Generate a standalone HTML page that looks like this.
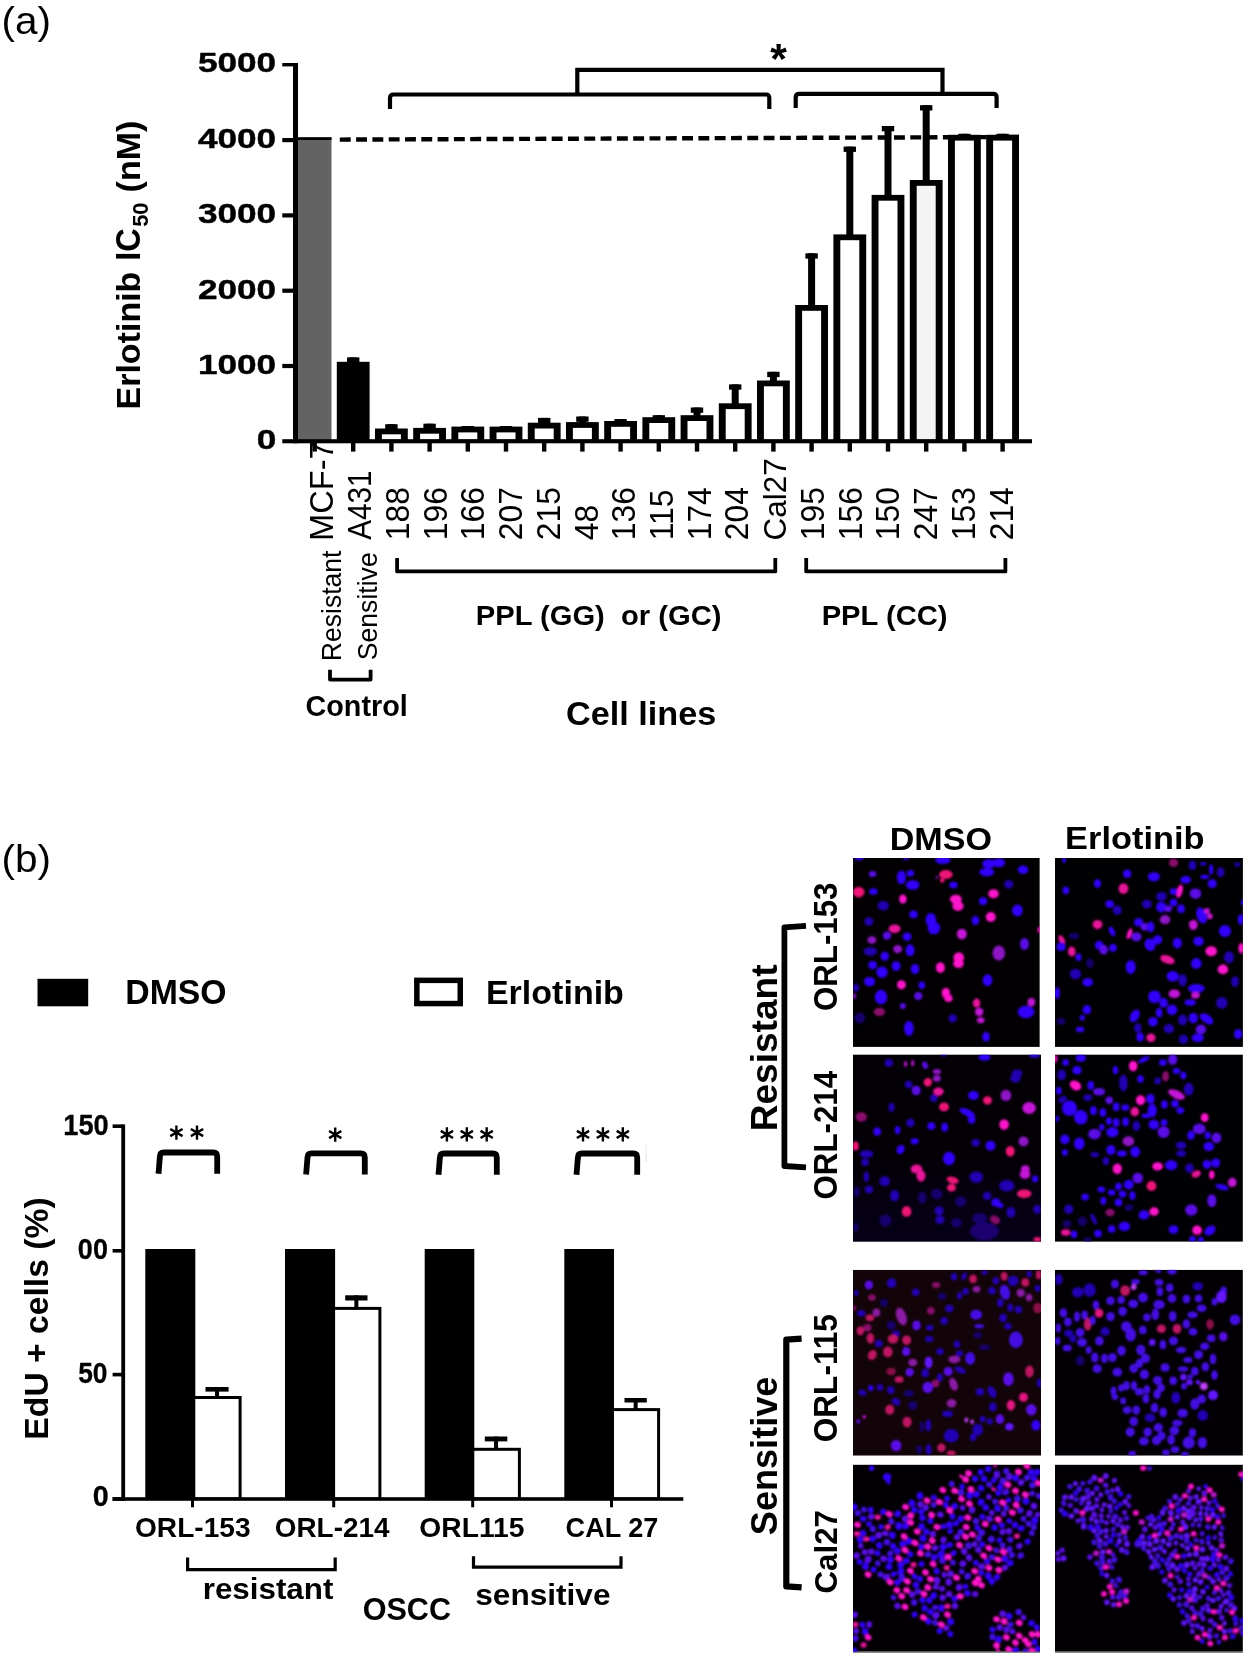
<!DOCTYPE html>
<html><head><meta charset="utf-8"><title>Figure</title>
<style>
html,body{margin:0;padding:0;background:#fff;}
body{width:1244px;height:1653px;overflow:hidden;}
svg{display:block;}
text{font-family:"Liberation Sans",sans-serif;opacity:0.999;}
</style></head><body>
<svg width="1244" height="1653" viewBox="0 0 1244 1653">
<rect width="1244" height="1653" fill="#fff"/>
<g>
<text xml:space="preserve" transform="translate(1.54,34.12) scale(1.0232,1)" font-size="39.57" font-weight="400" fill="#000">(a)</text>
<text xml:space="preserve" transform="translate(1.54,871.70) scale(1.0204,1)" font-size="39.68" font-weight="400" fill="#000">(b)</text>
<rect x="298.00" y="137.40" width="33.50" height="303.60" fill="#636363"/>
<rect x="336.80" y="361.80" width="32.80" height="79.20" fill="#000"/>
<rect x="349.70" y="357.40" width="7.00" height="5.40" fill="#000"/>
<rect x="347.00" y="357.40" width="12.40" height="5.30" fill="#000"/>
<rect x="375.00" y="428.50" width="32.80" height="12.50" fill="#000"/>
<rect x="381.90" y="434.30" width="19.00" height="5.30" fill="#fff"/>
<rect x="387.90" y="424.20" width="7.00" height="5.30" fill="#000"/>
<rect x="385.20" y="424.20" width="12.40" height="5.30" fill="#000"/>
<rect x="413.20" y="427.90" width="32.80" height="13.10" fill="#000"/>
<rect x="420.10" y="433.70" width="19.00" height="5.90" fill="#fff"/>
<rect x="426.10" y="423.70" width="7.00" height="5.20" fill="#000"/>
<rect x="423.40" y="423.70" width="12.40" height="5.30" fill="#000"/>
<rect x="451.40" y="426.60" width="32.80" height="14.40" fill="#000"/>
<rect x="458.30" y="432.40" width="19.00" height="7.20" fill="#fff"/>
<rect x="464.30" y="426.00" width="7.00" height="1.60" fill="#000"/>
<rect x="461.60" y="426.00" width="12.40" height="5.30" fill="#000"/>
<rect x="489.60" y="426.60" width="32.80" height="14.40" fill="#000"/>
<rect x="496.50" y="432.40" width="19.00" height="7.20" fill="#fff"/>
<rect x="502.50" y="426.00" width="7.00" height="1.60" fill="#000"/>
<rect x="499.80" y="426.00" width="12.40" height="5.30" fill="#000"/>
<rect x="527.80" y="422.70" width="32.80" height="18.30" fill="#000"/>
<rect x="534.70" y="428.50" width="19.00" height="11.10" fill="#fff"/>
<rect x="540.70" y="417.90" width="7.00" height="5.80" fill="#000"/>
<rect x="538.00" y="417.90" width="12.40" height="5.30" fill="#000"/>
<rect x="566.00" y="422.10" width="32.80" height="18.90" fill="#000"/>
<rect x="572.90" y="427.90" width="19.00" height="11.70" fill="#fff"/>
<rect x="578.90" y="416.50" width="7.00" height="6.60" fill="#000"/>
<rect x="576.20" y="416.50" width="12.40" height="5.30" fill="#000"/>
<rect x="604.20" y="421.00" width="32.80" height="20.00" fill="#000"/>
<rect x="611.10" y="426.80" width="19.00" height="12.80" fill="#fff"/>
<rect x="617.10" y="419.10" width="7.00" height="2.90" fill="#000"/>
<rect x="614.40" y="419.10" width="12.40" height="5.30" fill="#000"/>
<rect x="642.40" y="417.20" width="32.80" height="23.80" fill="#000"/>
<rect x="649.30" y="423.00" width="19.00" height="16.60" fill="#fff"/>
<rect x="655.30" y="415.20" width="7.00" height="3.00" fill="#000"/>
<rect x="652.60" y="415.20" width="12.40" height="5.30" fill="#000"/>
<rect x="680.60" y="415.20" width="32.80" height="25.80" fill="#000"/>
<rect x="687.50" y="421.00" width="19.00" height="18.60" fill="#fff"/>
<rect x="693.50" y="407.50" width="7.00" height="8.70" fill="#000"/>
<rect x="690.80" y="407.50" width="12.40" height="5.30" fill="#000"/>
<rect x="718.80" y="403.30" width="32.80" height="37.70" fill="#000"/>
<rect x="725.70" y="409.10" width="19.00" height="30.50" fill="#fff"/>
<rect x="731.70" y="384.40" width="7.00" height="19.90" fill="#000"/>
<rect x="729.00" y="384.40" width="12.40" height="5.30" fill="#000"/>
<rect x="757.00" y="380.50" width="32.80" height="60.50" fill="#000"/>
<rect x="763.90" y="386.30" width="19.00" height="53.30" fill="#fff"/>
<rect x="769.90" y="371.80" width="7.00" height="9.70" fill="#000"/>
<rect x="767.20" y="371.80" width="12.40" height="5.30" fill="#000"/>
<rect x="795.20" y="305.00" width="32.80" height="136.00" fill="#000"/>
<rect x="802.10" y="310.80" width="19.00" height="128.80" fill="#fff"/>
<rect x="808.10" y="253.30" width="7.00" height="52.70" fill="#000"/>
<rect x="805.40" y="253.30" width="12.40" height="5.30" fill="#000"/>
<rect x="833.40" y="234.40" width="32.80" height="206.60" fill="#000"/>
<rect x="840.30" y="240.20" width="19.00" height="199.40" fill="#fff"/>
<rect x="846.30" y="146.60" width="7.00" height="88.80" fill="#000"/>
<rect x="843.60" y="146.60" width="12.40" height="5.30" fill="#000"/>
<rect x="871.60" y="194.90" width="32.80" height="246.10" fill="#000"/>
<rect x="878.50" y="200.70" width="19.00" height="238.90" fill="#fff"/>
<rect x="884.50" y="126.00" width="7.00" height="69.90" fill="#000"/>
<rect x="881.80" y="126.00" width="12.40" height="5.30" fill="#000"/>
<rect x="909.80" y="180.00" width="32.80" height="261.00" fill="#000"/>
<rect x="916.70" y="185.80" width="19.00" height="253.80" fill="#f4f4f4"/>
<rect x="922.70" y="105.20" width="7.00" height="75.80" fill="#000"/>
<rect x="920.00" y="105.20" width="12.40" height="5.30" fill="#000"/>
<rect x="948.00" y="134.80" width="32.80" height="306.20" fill="#000"/>
<rect x="954.90" y="140.60" width="19.00" height="299.00" fill="#fff"/>
<rect x="960.90" y="133.80" width="7.00" height="2.00" fill="#000"/>
<rect x="958.20" y="133.80" width="12.40" height="5.30" fill="#000"/>
<rect x="986.20" y="134.80" width="32.80" height="306.20" fill="#000"/>
<rect x="993.10" y="140.60" width="19.00" height="299.00" fill="#fff"/>
<rect x="999.10" y="133.80" width="7.00" height="2.00" fill="#000"/>
<rect x="996.40" y="133.80" width="12.40" height="5.30" fill="#000"/>
<path d="M296,138.7 L331.5,138.6" stroke="#000" stroke-width="2.8" fill="none"/>
<path d="M339.8,139.6 L1020,137.0" stroke="#000" stroke-width="4.4" stroke-dasharray="10.9 5.4" fill="none"/>
<rect x="293.00" y="63.00" width="5.00" height="380.20" fill="#000"/>
<rect x="282.30" y="439.20" width="749.70" height="4.10" fill="#000"/>
<rect x="282.30" y="363.90" width="12.70" height="4.20" fill="#000"/>
<rect x="282.30" y="288.60" width="12.70" height="4.20" fill="#000"/>
<rect x="282.30" y="213.30" width="12.70" height="4.20" fill="#000"/>
<rect x="282.30" y="138.00" width="12.70" height="4.20" fill="#000"/>
<rect x="282.30" y="63.00" width="12.70" height="3.40" fill="#000"/>
<rect x="312.50" y="443.00" width="4.40" height="8.60" fill="#000"/>
<rect x="351.00" y="443.00" width="4.40" height="8.60" fill="#000"/>
<rect x="389.20" y="443.00" width="4.40" height="8.60" fill="#000"/>
<rect x="427.40" y="443.00" width="4.40" height="8.60" fill="#000"/>
<rect x="465.60" y="443.00" width="4.40" height="8.60" fill="#000"/>
<rect x="503.80" y="443.00" width="4.40" height="8.60" fill="#000"/>
<rect x="542.00" y="443.00" width="4.40" height="8.60" fill="#000"/>
<rect x="580.20" y="443.00" width="4.40" height="8.60" fill="#000"/>
<rect x="618.40" y="443.00" width="4.40" height="8.60" fill="#000"/>
<rect x="656.60" y="443.00" width="4.40" height="8.60" fill="#000"/>
<rect x="694.80" y="443.00" width="4.40" height="8.60" fill="#000"/>
<rect x="733.00" y="443.00" width="4.40" height="8.60" fill="#000"/>
<rect x="771.20" y="443.00" width="4.40" height="8.60" fill="#000"/>
<rect x="809.40" y="443.00" width="4.40" height="8.60" fill="#000"/>
<rect x="847.60" y="443.00" width="4.40" height="8.60" fill="#000"/>
<rect x="885.80" y="443.00" width="4.40" height="8.60" fill="#000"/>
<rect x="924.00" y="443.00" width="4.40" height="8.60" fill="#000"/>
<rect x="962.20" y="443.00" width="4.40" height="8.60" fill="#000"/>
<rect x="1000.40" y="443.00" width="4.40" height="8.60" fill="#000"/>
<text xml:space="preserve" transform="translate(197.89,71.77) scale(1.2373,1)" font-size="28.44" font-weight="700" fill="#000" stroke="#000" stroke-width="0.45" stroke-linejoin="round">5000</text>
<text xml:space="preserve" transform="translate(197.89,148.17) scale(1.2373,1)" font-size="28.44" font-weight="700" fill="#000" stroke="#000" stroke-width="0.45" stroke-linejoin="round">4000</text>
<text xml:space="preserve" transform="translate(197.89,223.47) scale(1.2373,1)" font-size="28.44" font-weight="700" fill="#000" stroke="#000" stroke-width="0.45" stroke-linejoin="round">3000</text>
<text xml:space="preserve" transform="translate(197.89,298.77) scale(1.2373,1)" font-size="28.44" font-weight="700" fill="#000" stroke="#000" stroke-width="0.45" stroke-linejoin="round">2000</text>
<text xml:space="preserve" transform="translate(197.89,374.07) scale(1.2373,1)" font-size="28.44" font-weight="700" fill="#000" stroke="#000" stroke-width="0.45" stroke-linejoin="round">1000</text>
<text xml:space="preserve" transform="translate(256.67,449.37) scale(1.2373,1)" font-size="28.44" font-weight="700" fill="#000" stroke="#000" stroke-width="0.45" stroke-linejoin="round">0</text>
<text xml:space="preserve" transform="translate(139.57,409.47) rotate(-90) scale(1.0178,1)" font-size="33.41" font-weight="700" fill="#000">Erlotinib</text>
<text xml:space="preserve" transform="translate(139.84,260.66) rotate(-90) scale(0.9132,1)" font-size="35.52" font-weight="700" fill="#000">IC</text>
<text xml:space="preserve" transform="translate(148.08,226.85) rotate(-90) scale(0.9670,1)" font-size="22.50" font-weight="700" fill="#000">50</text>
<text xml:space="preserve" transform="translate(139.86,192.40) rotate(-90) scale(0.9984,1)" font-size="34.09" font-weight="700" fill="#000">(nM)</text>
<path d="M390,109 L390,98 Q390,94.5 393.5,94.5 L766,94.5 Q769.3,94.5 769.3,98 L769.3,109" stroke="#000" stroke-width="4.2" fill="none" stroke-linejoin="round"/>
<path d="M795.7,108 L795.7,97.3 Q795.7,93.8 799.2,93.8 L993.3,93.8 Q996.6,93.8 996.6,97.3 L996.6,108" stroke="#000" stroke-width="4.2" fill="none" stroke-linejoin="round"/>
<path d="M577.3,94.5 L577.3,69.9 L942.5,69.9 L942.5,93.8" stroke="#000" stroke-width="4.2" fill="none" stroke-linejoin="miter"/>
<text xml:space="preserve" transform="translate(770.36,73.28) scale(1.0173,1)" font-size="42.05" font-weight="700" fill="#000">*</text>
<text xml:space="preserve" transform="translate(332.77,541.02) rotate(-90) scale(0.9951,1)" font-size="32.83" font-weight="400" fill="#000">MCF-7</text>
<text xml:space="preserve" transform="translate(370.67,539.80) rotate(-90) scale(0.9045,1)" font-size="32.83" font-weight="400" fill="#000">A431</text>
<text xml:space="preserve" transform="translate(408.87,540.24) rotate(-90) scale(0.9688,1)" font-size="32.83" font-weight="400" fill="#000">188</text>
<text xml:space="preserve" transform="translate(446.60,540.24) rotate(-90) scale(0.9688,1)" font-size="32.83" font-weight="400" fill="#000">196</text>
<text xml:space="preserve" transform="translate(484.33,540.24) rotate(-90) scale(0.9688,1)" font-size="32.83" font-weight="400" fill="#000">166</text>
<text xml:space="preserve" transform="translate(522.06,540.24) rotate(-90) scale(0.9688,1)" font-size="32.83" font-weight="400" fill="#000">207</text>
<text xml:space="preserve" transform="translate(559.79,540.24) rotate(-90) scale(0.9688,1)" font-size="32.83" font-weight="400" fill="#000">215</text>
<text xml:space="preserve" transform="translate(597.52,540.24) rotate(-90) scale(0.9688,1)" font-size="32.83" font-weight="400" fill="#000">48</text>
<text xml:space="preserve" transform="translate(635.25,540.24) rotate(-90) scale(0.9688,1)" font-size="32.83" font-weight="400" fill="#000">136</text>
<text xml:space="preserve" transform="translate(672.98,540.24) rotate(-90) scale(0.9551,1)" font-size="33.30" font-weight="400" fill="#000">115</text>
<text xml:space="preserve" transform="translate(711.04,540.24) rotate(-90) scale(0.9414,1)" font-size="33.79" font-weight="400" fill="#000">174</text>
<text xml:space="preserve" transform="translate(748.44,540.24) rotate(-90) scale(0.9688,1)" font-size="32.83" font-weight="400" fill="#000">204</text>
<text xml:space="preserve" transform="translate(786.18,540.47) rotate(-90) scale(0.9948,1)" font-size="31.64" font-weight="400" fill="#000">Cal27</text>
<text xml:space="preserve" transform="translate(823.90,540.24) rotate(-90) scale(0.9688,1)" font-size="32.83" font-weight="400" fill="#000">195</text>
<text xml:space="preserve" transform="translate(861.63,540.24) rotate(-90) scale(0.9688,1)" font-size="32.83" font-weight="400" fill="#000">156</text>
<text xml:space="preserve" transform="translate(899.36,540.24) rotate(-90) scale(0.9688,1)" font-size="32.83" font-weight="400" fill="#000">150</text>
<text xml:space="preserve" transform="translate(937.42,540.24) rotate(-90) scale(0.9551,1)" font-size="33.30" font-weight="400" fill="#000">247</text>
<text xml:space="preserve" transform="translate(974.82,540.24) rotate(-90) scale(0.9688,1)" font-size="32.83" font-weight="400" fill="#000">153</text>
<text xml:space="preserve" transform="translate(1012.88,540.24) rotate(-90) scale(0.9551,1)" font-size="33.30" font-weight="400" fill="#000">214</text>
<text xml:space="preserve" transform="translate(341.11,661.21) rotate(-90) scale(0.9321,1)" font-size="28.50" font-weight="400" fill="#000">Resistant</text>
<text xml:space="preserve" transform="translate(376.81,660.24) rotate(-90) scale(0.9341,1)" font-size="28.50" font-weight="400" fill="#000">Sensitive</text>
<path d="M330.0,669.8 L330.0,679.6 L370.6,679.6 L370.6,669.8" stroke="#000" stroke-width="3.8" fill="none" stroke-linejoin="round"/>
<path d="M397.1,557.9 L397.1,571.4 L775.3,571.4 L775.3,557.9" stroke="#000" stroke-width="3.8" fill="none" stroke-linejoin="round"/>
<path d="M806.2,557.9 L806.2,571.4 L1005.4,571.4 L1005.4,557.9" stroke="#000" stroke-width="3.8" fill="none" stroke-linejoin="round"/>
<text xml:space="preserve" transform="translate(305.55,715.61) scale(1.0040,1)" font-size="28.64" font-weight="700" fill="#000">Control</text>
<text xml:space="preserve" transform="translate(475.76,624.68) scale(1.0722,1)" font-size="27.20" font-weight="700" fill="#000">PPL (GG)  or (GC)</text>
<text xml:space="preserve" transform="translate(821.65,624.68) scale(1.0730,1)" font-size="27.20" font-weight="700" fill="#000">PPL (CC)</text>
<text xml:space="preserve" transform="translate(566.03,725.26) scale(1.0039,1)" font-size="34.09" font-weight="700" fill="#000">Cell lines</text>
<rect x="37.50" y="978.80" width="50.70" height="27.50" fill="#000"/>
<rect x="414.10" y="977.60" width="48.90" height="28.70" fill="#000"/>
<rect x="419.60" y="983.10" width="37.90" height="17.70" fill="#fff"/>
<text xml:space="preserve" transform="translate(125.25,1003.55) scale(0.9710,1)" font-size="34.81" font-weight="700" fill="#000">DMSO</text>
<text xml:space="preserve" transform="translate(485.93,1003.56) scale(1.0144,1)" font-size="33.55" font-weight="700" fill="#000">Erlotinib</text>
<rect x="145.30" y="1249.00" width="50.00" height="250.00" fill="#000"/>
<rect x="285.00" y="1249.00" width="50.10" height="250.00" fill="#000"/>
<rect x="424.70" y="1249.00" width="49.60" height="250.00" fill="#000"/>
<rect x="564.30" y="1249.00" width="49.70" height="250.00" fill="#000"/>
<rect x="192.30" y="1396.00" width="49.30" height="103.00" fill="#000"/>
<rect x="195.30" y="1399.00" width="43.30" height="98.40" fill="#fff"/>
<rect x="205.50" y="1387.00" width="23.10" height="4.60" fill="#000"/>
<rect x="215.05" y="1387.00" width="4.00" height="10.00" fill="#000"/>
<rect x="332.10" y="1306.90" width="49.30" height="192.10" fill="#000"/>
<rect x="335.10" y="1309.90" width="43.30" height="187.50" fill="#fff"/>
<rect x="345.20" y="1295.30" width="22.30" height="5.20" fill="#000"/>
<rect x="354.35" y="1295.30" width="4.00" height="12.60" fill="#000"/>
<rect x="471.30" y="1447.80" width="49.60" height="51.20" fill="#000"/>
<rect x="474.30" y="1450.80" width="43.60" height="46.60" fill="#fff"/>
<rect x="484.80" y="1436.50" width="22.50" height="4.90" fill="#000"/>
<rect x="494.05" y="1436.50" width="4.00" height="12.30" fill="#000"/>
<rect x="611.00" y="1408.10" width="49.10" height="90.90" fill="#000"/>
<rect x="614.00" y="1411.10" width="43.10" height="86.30" fill="#fff"/>
<rect x="624.50" y="1398.00" width="22.30" height="4.50" fill="#000"/>
<rect x="633.65" y="1398.00" width="4.00" height="11.10" fill="#000"/>
<rect x="121.30" y="1124.40" width="3.80" height="376.40" fill="#000"/>
<rect x="112.60" y="1497.20" width="570.70" height="3.60" fill="#000"/>
<rect x="112.60" y="1124.40" width="10.40" height="3.60" fill="#000"/>
<rect x="112.60" y="1249.00" width="10.40" height="3.60" fill="#000"/>
<rect x="112.60" y="1372.80" width="10.40" height="3.60" fill="#000"/>
<rect x="112.60" y="1497.20" width="10.40" height="3.60" fill="#000"/>
<rect x="191.00" y="1500.00" width="3.00" height="7.30" fill="#000"/>
<rect x="332.20" y="1500.00" width="3.00" height="7.30" fill="#000"/>
<rect x="471.20" y="1500.00" width="3.00" height="7.30" fill="#000"/>
<rect x="610.00" y="1500.00" width="3.00" height="7.30" fill="#000"/>
<text xml:space="preserve" transform="translate(63.32,1134.55) scale(0.9042,1)" font-size="30.14" font-weight="700" fill="#000" stroke="#000" stroke-width="0.32" stroke-linejoin="round">150</text>
<text xml:space="preserve" transform="translate(77.87,1258.95) scale(0.9086,1)" font-size="29.72" font-weight="700" fill="#000" stroke="#000" stroke-width="0.31" stroke-linejoin="round">00</text>
<text xml:space="preserve" transform="translate(78.16,1382.55) scale(0.8870,1)" font-size="29.72" font-weight="700" fill="#000" stroke="#000" stroke-width="0.32" stroke-linejoin="round">50</text>
<text xml:space="preserve" transform="translate(92.80,1506.35) scale(0.9626,1)" font-size="29.86" font-weight="700" fill="#000" stroke="#000" stroke-width="0.31" stroke-linejoin="round">0</text>
<text xml:space="preserve" transform="translate(48.24,1439.65) rotate(-90) scale(1.0009,1)" font-size="33.66" font-weight="700" fill="#000">EdU + cells (%)</text>
<text xml:space="preserve" transform="translate(134.98,1536.82) scale(1.0190,1)" font-size="27.59" font-weight="700" fill="#000">ORL-153</text>
<text xml:space="preserve" transform="translate(274.78,1536.82) scale(1.0114,1)" font-size="27.59" font-weight="700" fill="#000">ORL-214</text>
<text xml:space="preserve" transform="translate(419.37,1536.82) scale(1.0238,1)" font-size="27.59" font-weight="700" fill="#000">ORL115</text>
<text xml:space="preserve" transform="translate(565.62,1536.82) scale(0.9810,1)" font-size="27.59" font-weight="700" fill="#000">CAL 27</text>
<path d="M187.6,1557.6 L187.6,1569.6 L335.2,1569.6 L335.2,1557.6" stroke="#000" stroke-width="3.2" fill="none" stroke-linejoin="miter"/>
<path d="M473.5,1556.3 L473.5,1567.2 L621.0,1567.2 L621.0,1556.3" stroke="#000" stroke-width="3.2" fill="none" stroke-linejoin="miter"/>
<text xml:space="preserve" transform="translate(202.71,1599.11) scale(1.0946,1)" font-size="28.64" font-weight="700" fill="#000">resistant</text>
<text xml:space="preserve" transform="translate(475.24,1604.80) scale(1.0587,1)" font-size="29.86" font-weight="700" fill="#000">sensitive</text>
<text xml:space="preserve" transform="translate(362.68,1620.18) scale(0.9569,1)" font-size="31.98" font-weight="700" fill="#000">OSCC</text>
<path d="M176.40,1125.50 L176.40,1139.70 M170.25,1129.05 L182.55,1136.15 M182.55,1129.05 L170.25,1136.15 " stroke="#000" stroke-width="2.4" fill="none"/>
<path d="M197.00,1125.50 L197.00,1139.70 M190.85,1129.05 L203.15,1136.15 M203.15,1129.05 L190.85,1136.15 " stroke="#000" stroke-width="2.4" fill="none"/>
<path d="M335.20,1127.50 L335.20,1141.70 M329.05,1131.05 L341.35,1138.15 M341.35,1131.05 L329.05,1138.15 " stroke="#000" stroke-width="2.4" fill="none"/>
<path d="M446.90,1127.30 L446.90,1141.50 M440.75,1130.85 L453.05,1137.95 M453.05,1130.85 L440.75,1137.95 " stroke="#000" stroke-width="2.4" fill="none"/>
<path d="M466.80,1127.30 L466.80,1141.50 M460.65,1130.85 L472.95,1137.95 M472.95,1130.85 L460.65,1137.95 " stroke="#000" stroke-width="2.4" fill="none"/>
<path d="M486.70,1127.30 L486.70,1141.50 M480.55,1130.85 L492.85,1137.95 M492.85,1130.85 L480.55,1137.95 " stroke="#000" stroke-width="2.4" fill="none"/>
<path d="M583.00,1127.30 L583.00,1141.50 M576.85,1130.85 L589.15,1137.95 M589.15,1130.85 L576.85,1137.95 " stroke="#000" stroke-width="2.4" fill="none"/>
<path d="M602.90,1127.30 L602.90,1141.50 M596.75,1130.85 L609.05,1137.95 M609.05,1130.85 L596.75,1137.95 " stroke="#000" stroke-width="2.4" fill="none"/>
<path d="M622.80,1127.30 L622.80,1141.50 M616.65,1130.85 L628.95,1137.95 M628.95,1130.85 L616.65,1137.95 " stroke="#000" stroke-width="2.4" fill="none"/>
<path d="M158.50,1173.7 L159.90,1156.50 Q159.90,1152.50 163.90,1152.50 L213.20,1152.50 Q217.20,1152.50 217.20,1156.50 L217.20,1173.7" stroke="#000" stroke-width="5.8" fill="none" stroke-linejoin="round"/>
<path d="M306.10,1174.6 L307.50,1157.40 Q307.50,1153.40 311.50,1153.40 L360.80,1153.40 Q364.80,1153.40 364.80,1157.40 L364.80,1174.6" stroke="#000" stroke-width="5.8" fill="none" stroke-linejoin="round"/>
<path d="M438.50,1174.7 L439.90,1157.50 Q439.90,1153.50 443.90,1153.50 L492.80,1153.50 Q496.80,1153.50 496.80,1157.50 L496.80,1174.7" stroke="#000" stroke-width="5.8" fill="none" stroke-linejoin="round"/>
<path d="M576.50,1174.7 L577.90,1157.50 Q577.90,1153.50 581.90,1153.50 L633.20,1153.50 Q637.20,1153.50 637.20,1157.50 L637.20,1174.7" stroke="#000" stroke-width="5.8" fill="none" stroke-linejoin="round"/>
<rect x="645.60" y="1145.00" width="0.80" height="17.00" fill="#ddd"/>
<text xml:space="preserve" transform="translate(889.63,850.28) scale(1.0762,1)" font-size="31.70" font-weight="700" fill="#000">DMSO</text>
<text xml:space="preserve" transform="translate(1065.11,849.09) scale(1.0963,1)" font-size="31.36" font-weight="700" fill="#000">Erlotinib</text>
<text xml:space="preserve" transform="translate(837.47,1010.95) rotate(-90) scale(0.9394,1)" font-size="33.25" font-weight="700" fill="#000">ORL-153</text>
<text xml:space="preserve" transform="translate(837.47,1199.45) rotate(-90) scale(0.9406,1)" font-size="33.25" font-weight="700" fill="#000">ORL-214</text>
<text xml:space="preserve" transform="translate(837.47,1442.26) rotate(-90) scale(0.9504,1)" font-size="33.25" font-weight="700" fill="#000">ORL-115</text>
<text xml:space="preserve" transform="translate(837.48,1593.55) rotate(-90) scale(0.9772,1)" font-size="32.05" font-weight="700" fill="#000">Cal27</text>
<text xml:space="preserve" transform="translate(776.94,1131.27) rotate(-90) scale(1.0177,1)" font-size="36.41" font-weight="700" fill="#000">Resistant</text>
<text xml:space="preserve" transform="translate(776.94,1535.18) rotate(-90) scale(0.9922,1)" font-size="36.41" font-weight="700" fill="#000">Sensitive</text>
<path d="M806,925.9 L784.4,927.4 L784.4,1166.0 L806,1167.4" stroke="#000" stroke-width="5.8" fill="none" stroke-linejoin="round"/>
<path d="M801.6,1338.6 L786.3,1339.6 L786.3,1586.4 L801.6,1587.4" stroke="#000" stroke-width="6.2" fill="none" stroke-linejoin="round"/>
<rect x="853.00" y="1651.80" width="187.00" height="1.20" fill="#8a8a8a"/>
<rect x="1055.00" y="1651.80" width="187.90" height="1.20" fill="#8a8a8a"/>
<defs><linearGradient id="hz3" x1="0" y1="0" x2="0" y2="1"><stop offset="0.55" stop-color="#0c0038" stop-opacity="0"/><stop offset="1" stop-color="#0a0030" stop-opacity="0.45"/></linearGradient></defs>
<defs><filter id="bl" x="-5%" y="-5%" width="110%" height="110%"><feGaussianBlur stdDeviation="1.3"/></filter></defs>
<svg x="853.00" y="857.90" width="186.80" height="189.00" viewBox="0 0 186.80 189.00" overflow="hidden">
<rect width="100%" height="100%" fill="#020003"/>
<g filter="url(#bl)">
<ellipse cx="89.9" cy="2.4" rx="7.6" ry="3.8" fill="#3200fa"/>
<ellipse cx="6.0" cy="0.9" rx="4.5" ry="1.5" fill="#3200fa"/>
<ellipse cx="52.9" cy="0.9" rx="3.0" ry="1.2" fill="#3200fa"/>
<ellipse cx="136.0" cy="5.9" rx="6.8" ry="4.5" fill="#3200fa"/>
<ellipse cx="145.8" cy="4.8" rx="6.3" ry="4.5" fill="#3200fa"/>
<ellipse cx="133.7" cy="14.2" rx="7.6" ry="4.2" fill="#3200fa"/>
<ellipse cx="170.0" cy="11.9" rx="5.3" ry="4.2" fill="#3200fa"/>
<ellipse cx="19.6" cy="16.0" rx="3.8" ry="3.0" fill="#5a0ce6"/>
<ellipse cx="48.4" cy="19.5" rx="4.5" ry="6.8" fill="#3200fa"/>
<ellipse cx="57.4" cy="15.4" rx="3.8" ry="3.3" fill="#3200fa"/>
<ellipse cx="59.7" cy="27.1" rx="6.8" ry="4.8" fill="#3200fa"/>
<ellipse cx="92.9" cy="16.5" rx="6.8" ry="4.5" fill="#f01478"/>
<ellipse cx="89.2" cy="22.5" rx="2.3" ry="2.3" fill="#f01478"/>
<ellipse cx="83.9" cy="19.5" rx="1.5" ry="1.2" fill="#8e14c4"/>
<ellipse cx="100.5" cy="27.1" rx="4.2" ry="3.3" fill="#3200fa"/>
<ellipse cx="155.7" cy="26.3" rx="4.5" ry="4.2" fill="#2400b4"/>
<ellipse cx="5.7" cy="34.2" rx="5.7" ry="5.3" fill="#f01478"/>
<ellipse cx="20.4" cy="33.6" rx="4.2" ry="3.3" fill="#3200fa"/>
<ellipse cx="49.9" cy="41.1" rx="3.8" ry="4.5" fill="#ff12cc"/>
<ellipse cx="140.5" cy="35.8" rx="5.3" ry="4.5" fill="#ff12cc"/>
<ellipse cx="102.8" cy="41.4" rx="6.0" ry="4.5" fill="#ff12cc"/>
<ellipse cx="105.0" cy="48.2" rx="5.7" ry="4.8" fill="#ff12cc"/>
<ellipse cx="130.0" cy="43.2" rx="4.2" ry="3.9" fill="#3200fa"/>
<ellipse cx="30.2" cy="47.8" rx="5.7" ry="4.8" fill="#2400b4"/>
<ellipse cx="164.4" cy="52.7" rx="5.3" ry="6.0" fill="#3200fa"/>
<ellipse cx="60.5" cy="56.5" rx="4.2" ry="3.8" fill="#3200fa"/>
<ellipse cx="137.8" cy="59.1" rx="5.0" ry="5.0" fill="#ff12cc"/>
<ellipse cx="122.4" cy="62.6" rx="3.8" ry="4.5" fill="#3200fa"/>
<ellipse cx="77.8" cy="61.8" rx="5.3" ry="6.8" fill="#3200fa"/>
<ellipse cx="80.9" cy="70.1" rx="6.3" ry="6.3" fill="#3200fa"/>
<ellipse cx="15.9" cy="63.6" rx="4.5" ry="4.2" fill="#2400b4"/>
<ellipse cx="41.6" cy="70.9" rx="6.0" ry="4.2" fill="#e8129a"/>
<ellipse cx="108.8" cy="76.2" rx="5.0" ry="5.3" fill="#c418d8"/>
<ellipse cx="34.0" cy="77.7" rx="4.2" ry="4.1" fill="#5a0ce6"/>
<ellipse cx="54.1" cy="78.7" rx="4.5" ry="4.2" fill="#3200fa"/>
<ellipse cx="18.9" cy="82.2" rx="4.5" ry="3.8" fill="#8e14c4"/>
<ellipse cx="171.5" cy="86.0" rx="4.5" ry="6.0" fill="#5a0ce6"/>
<ellipse cx="186.2" cy="71.9" rx="1.5" ry="3.3" fill="#ff12cc"/>
<ellipse cx="44.6" cy="91.3" rx="4.5" ry="4.1" fill="#8e14c4"/>
<ellipse cx="57.1" cy="92.3" rx="4.5" ry="6.0" fill="#3200fa"/>
<ellipse cx="17.4" cy="93.6" rx="6.8" ry="4.2" fill="#2400b4"/>
<ellipse cx="31.7" cy="98.4" rx="4.2" ry="4.5" fill="#3200fa"/>
<ellipse cx="145.8" cy="95.1" rx="6.3" ry="7.6" fill="#8e14c4"/>
<ellipse cx="105.8" cy="99.6" rx="5.3" ry="5.3" fill="#ff12cc"/>
<ellipse cx="105.5" cy="105.6" rx="5.3" ry="4.5" fill="#ff12cc"/>
<ellipse cx="87.4" cy="109.7" rx="4.5" ry="5.3" fill="#ff12cc"/>
<ellipse cx="19.6" cy="107.2" rx="4.5" ry="4.2" fill="#3200fa"/>
<ellipse cx="43.1" cy="108.2" rx="4.5" ry="4.8" fill="#3200fa"/>
<ellipse cx="62.0" cy="111.2" rx="4.2" ry="5.0" fill="#3200fa"/>
<ellipse cx="29.0" cy="114.3" rx="5.7" ry="5.7" fill="#3200fa"/>
<ellipse cx="16.6" cy="123.8" rx="5.6" ry="4.8" fill="#3200fa"/>
<ellipse cx="134.5" cy="122.3" rx="4.8" ry="6.0" fill="#3200fa"/>
<ellipse cx="48.4" cy="126.8" rx="4.5" ry="4.5" fill="#ff12cc"/>
<ellipse cx="68.8" cy="127.3" rx="3.3" ry="3.8" fill="#3200fa"/>
<ellipse cx="3.0" cy="129.8" rx="3.0" ry="3.8" fill="#2400b4"/>
<ellipse cx="28.0" cy="139.2" rx="6.3" ry="7.3" fill="#3200fa"/>
<ellipse cx="65.3" cy="138.1" rx="4.2" ry="4.1" fill="#5a0ce6"/>
<ellipse cx="92.9" cy="135.1" rx="4.2" ry="5.3" fill="#ff12cc"/>
<ellipse cx="95.5" cy="140.4" rx="4.1" ry="3.8" fill="#ff12cc"/>
<ellipse cx="49.9" cy="148.0" rx="3.0" ry="3.0" fill="#5a0ce6"/>
<ellipse cx="123.6" cy="145.2" rx="3.8" ry="4.5" fill="#e8129a"/>
<ellipse cx="126.2" cy="154.0" rx="4.1" ry="4.1" fill="#c418d8"/>
<ellipse cx="127.7" cy="162.3" rx="3.8" ry="3.0" fill="#c418d8"/>
<ellipse cx="26.4" cy="154.0" rx="5.7" ry="4.2" fill="#8a0e6c"/>
<ellipse cx="6.8" cy="160.0" rx="5.3" ry="5.3" fill="#16006e"/>
<ellipse cx="99.7" cy="160.5" rx="4.2" ry="4.2" fill="#2400b4"/>
<ellipse cx="173.0" cy="154.0" rx="8.3" ry="6.3" fill="#3200fa"/>
<ellipse cx="178.3" cy="144.2" rx="3.8" ry="4.2" fill="#c418d8"/>
<ellipse cx="55.9" cy="170.6" rx="4.8" ry="7.6" fill="#3200fa"/>
<ellipse cx="133.0" cy="178.9" rx="3.8" ry="4.8" fill="#3200fa"/>
<ellipse cx="1.5" cy="138.1" rx="1.5" ry="3.0" fill="#8e14c4"/>
</g></svg>
<svg x="1055.00" y="857.90" width="187.90" height="189.00" viewBox="0 0 187.90 189.00" overflow="hidden">
<rect width="100%" height="100%" fill="#010002"/>
<g filter="url(#bl)">
<ellipse cx="9.1" cy="2.1" rx="1.8" ry="3.0" fill="#3200fa"/>
<ellipse cx="118.5" cy="4.9" rx="4.6" ry="4.3" fill="#8a0e6c"/>
<ellipse cx="137.5" cy="7.5" rx="3.8" ry="4.9" fill="#2400b4"/>
<ellipse cx="148.1" cy="5.9" rx="3.3" ry="1.5" fill="#3200fa"/>
<ellipse cx="156.2" cy="11.6" rx="2.1" ry="5.3" fill="#3200fa"/>
<ellipse cx="149.7" cy="18.9" rx="4.6" ry="2.1" fill="#3200fa"/>
<ellipse cx="165.6" cy="14.3" rx="3.8" ry="4.9" fill="#2400b4"/>
<ellipse cx="182.3" cy="6.7" rx="2.7" ry="2.3" fill="#2400b4"/>
<ellipse cx="72.2" cy="15.8" rx="4.3" ry="4.3" fill="#3200fa"/>
<ellipse cx="98.8" cy="18.9" rx="6.1" ry="4.6" fill="#3200fa"/>
<ellipse cx="130.7" cy="21.9" rx="5.3" ry="3.8" fill="#3200fa"/>
<ellipse cx="157.2" cy="25.7" rx="4.6" ry="4.3" fill="#3200fa"/>
<ellipse cx="42.5" cy="25.7" rx="3.5" ry="4.3" fill="#3200fa"/>
<ellipse cx="10.9" cy="32.5" rx="3.3" ry="3.8" fill="#3200fa"/>
<ellipse cx="68.4" cy="30.7" rx="4.9" ry="5.3" fill="#e8129a"/>
<ellipse cx="124.6" cy="33.3" rx="3.0" ry="6.8" fill="#ff12cc" transform="rotate(15 124.6 33.3)"/>
<ellipse cx="118.5" cy="33.7" rx="3.8" ry="3.3" fill="#3200fa"/>
<ellipse cx="140.5" cy="35.6" rx="5.8" ry="5.3" fill="#5a0ce6"/>
<ellipse cx="106.4" cy="38.6" rx="5.3" ry="4.6" fill="#2400b4"/>
<ellipse cx="54.7" cy="46.2" rx="4.3" ry="3.8" fill="#3200fa"/>
<ellipse cx="62.3" cy="52.3" rx="4.6" ry="4.6" fill="#2400b4"/>
<ellipse cx="91.9" cy="46.2" rx="4.9" ry="4.3" fill="#2400b4"/>
<ellipse cx="118.5" cy="44.7" rx="3.8" ry="3.8" fill="#3200fa"/>
<ellipse cx="106.4" cy="49.2" rx="5.3" ry="5.3" fill="#3200fa"/>
<ellipse cx="113.2" cy="50.8" rx="3.8" ry="3.3" fill="#5a0ce6"/>
<ellipse cx="126.1" cy="50.8" rx="3.8" ry="4.3" fill="#3200fa"/>
<ellipse cx="187.2" cy="44.7" rx="1.5" ry="3.0" fill="#3200fa"/>
<ellipse cx="146.6" cy="57.6" rx="5.0" ry="8.4" fill="#3200fa" transform="rotate(-20 146.6 57.6)"/>
<ellipse cx="151.9" cy="53.0" rx="3.0" ry="3.0" fill="#c418d8"/>
<ellipse cx="155.0" cy="58.4" rx="2.7" ry="3.0" fill="#c418d8"/>
<ellipse cx="110.1" cy="61.8" rx="5.3" ry="4.6" fill="#8e14c4"/>
<ellipse cx="185.7" cy="61.7" rx="3.0" ry="5.3" fill="#3200fa"/>
<ellipse cx="42.5" cy="66.7" rx="4.9" ry="4.6" fill="#e8129a"/>
<ellipse cx="83.6" cy="64.4" rx="4.6" ry="4.3" fill="#3200fa"/>
<ellipse cx="89.6" cy="69.0" rx="3.8" ry="3.8" fill="#5a0ce6"/>
<ellipse cx="95.7" cy="69.0" rx="3.8" ry="5.3" fill="#3200fa"/>
<ellipse cx="138.3" cy="67.0" rx="4.3" ry="5.0" fill="#c418d8"/>
<ellipse cx="57.0" cy="73.5" rx="2.7" ry="5.3" fill="#3200fa" transform="rotate(-25 57.0 73.5)"/>
<ellipse cx="169.9" cy="73.1" rx="6.1" ry="6.1" fill="#3200fa"/>
<ellipse cx="74.4" cy="75.8" rx="2.1" ry="5.8" fill="#ff12cc" transform="rotate(20 74.4 75.8)"/>
<ellipse cx="81.3" cy="78.9" rx="5.3" ry="4.6" fill="#5a0ce6"/>
<ellipse cx="19.0" cy="78.1" rx="5.3" ry="3.3" fill="#16006e"/>
<ellipse cx="102.6" cy="81.9" rx="4.6" ry="4.6" fill="#3200fa"/>
<ellipse cx="6.8" cy="81.9" rx="2.7" ry="4.9" fill="#e8129a" transform="rotate(-30 6.8 81.9)"/>
<ellipse cx="6.1" cy="88.7" rx="4.6" ry="4.3" fill="#3200fa"/>
<ellipse cx="44.1" cy="87.2" rx="4.3" ry="4.3" fill="#3200fa"/>
<ellipse cx="48.6" cy="91.8" rx="4.3" ry="4.9" fill="#5a0ce6"/>
<ellipse cx="58.0" cy="90.0" rx="3.8" ry="3.8" fill="#3200fa"/>
<ellipse cx="95.0" cy="86.9" rx="5.3" ry="6.4" fill="#3200fa" transform="rotate(-25 95.0 86.9)"/>
<ellipse cx="122.3" cy="85.2" rx="4.6" ry="5.3" fill="#3200fa"/>
<ellipse cx="143.6" cy="83.4" rx="5.3" ry="4.6" fill="#3200fa"/>
<ellipse cx="16.7" cy="93.6" rx="3.8" ry="4.9" fill="#e8129a"/>
<ellipse cx="23.5" cy="99.4" rx="3.0" ry="3.8" fill="#3200fa"/>
<ellipse cx="156.2" cy="93.3" rx="5.8" ry="5.0" fill="#ff12cc"/>
<ellipse cx="186.1" cy="90.3" rx="2.7" ry="5.3" fill="#ff12cc"/>
<ellipse cx="174.0" cy="99.4" rx="5.0" ry="6.1" fill="#2400b4"/>
<ellipse cx="112.4" cy="101.7" rx="7.6" ry="4.0" fill="#e8129a" transform="rotate(20 112.4 101.7)"/>
<ellipse cx="34.9" cy="105.5" rx="3.8" ry="4.9" fill="#16006e"/>
<ellipse cx="141.3" cy="105.5" rx="5.3" ry="5.3" fill="#3200fa"/>
<ellipse cx="75.7" cy="109.2" rx="5.0" ry="6.8" fill="#3200fa"/>
<ellipse cx="167.9" cy="111.5" rx="5.3" ry="4.9" fill="#ff12cc"/>
<ellipse cx="20.5" cy="116.1" rx="5.8" ry="5.3" fill="#2400b4"/>
<ellipse cx="117.7" cy="118.4" rx="6.1" ry="5.3" fill="#3200fa"/>
<ellipse cx="127.6" cy="122.2" rx="4.3" ry="6.1" fill="#2400b4"/>
<ellipse cx="32.7" cy="124.4" rx="5.3" ry="4.3" fill="#3200fa"/>
<ellipse cx="180.0" cy="123.7" rx="3.8" ry="5.3" fill="#2400b4"/>
<ellipse cx="2.3" cy="135.1" rx="2.7" ry="6.1" fill="#3200fa"/>
<ellipse cx="141.3" cy="130.5" rx="8.4" ry="4.3" fill="#3200fa"/>
<ellipse cx="119.3" cy="135.8" rx="5.8" ry="4.3" fill="#c418d8"/>
<ellipse cx="99.5" cy="138.9" rx="6.4" ry="6.4" fill="#3200fa"/>
<ellipse cx="140.5" cy="137.4" rx="4.3" ry="3.3" fill="#c418d8"/>
<ellipse cx="108.6" cy="145.0" rx="4.3" ry="4.9" fill="#3200fa"/>
<ellipse cx="135.2" cy="144.6" rx="5.8" ry="3.3" fill="#3200fa"/>
<ellipse cx="166.8" cy="145.0" rx="5.8" ry="5.8" fill="#2400b4"/>
<ellipse cx="31.9" cy="151.8" rx="4.3" ry="4.6" fill="#3200fa"/>
<ellipse cx="117.0" cy="151.8" rx="5.3" ry="5.3" fill="#3200fa"/>
<ellipse cx="104.1" cy="154.8" rx="3.3" ry="4.9" fill="#3200fa"/>
<ellipse cx="79.8" cy="157.9" rx="4.3" ry="6.8" fill="#3200fa" transform="rotate(30 79.8 157.9)"/>
<ellipse cx="27.3" cy="159.8" rx="2.7" ry="2.7" fill="#3200fa"/>
<ellipse cx="138.3" cy="160.1" rx="4.6" ry="5.3" fill="#3200fa"/>
<ellipse cx="127.6" cy="162.0" rx="4.6" ry="5.3" fill="#2400b4"/>
<ellipse cx="151.6" cy="160.9" rx="7.6" ry="4.3" fill="#3200fa" transform="rotate(35 151.6 160.9)"/>
<ellipse cx="6.1" cy="163.5" rx="4.3" ry="3.3" fill="#16006e"/>
<ellipse cx="98.0" cy="163.9" rx="4.9" ry="4.6" fill="#3200fa"/>
<ellipse cx="25.1" cy="171.5" rx="4.3" ry="2.7" fill="#3200fa"/>
<ellipse cx="113.9" cy="170.8" rx="5.3" ry="4.6" fill="#2400b4"/>
<ellipse cx="145.9" cy="171.5" rx="5.3" ry="4.9" fill="#5a0ce6"/>
<ellipse cx="82.8" cy="170.0" rx="3.8" ry="4.6" fill="#2400b4"/>
<ellipse cx="183.1" cy="176.1" rx="4.1" ry="4.9" fill="#3200fa"/>
<ellipse cx="85.1" cy="179.1" rx="3.8" ry="4.6" fill="#3200fa"/>
<ellipse cx="96.0" cy="179.9" rx="4.6" ry="4.3" fill="#e8129a"/>
<ellipse cx="142.8" cy="179.9" rx="6.1" ry="4.3" fill="#3200fa"/>
<ellipse cx="128.4" cy="181.4" rx="4.6" ry="4.6" fill="#2400b4"/>
</g></svg>
<svg x="853.00" y="1054.40" width="188.00" height="187.40" viewBox="0 0 188.00 187.40" overflow="hidden">
<rect width="100%" height="100%" fill="#030006"/>
<rect width="100%" height="100%" fill="url(#hz3)"/>
<g filter="url(#bl)">
<ellipse cx="90.7" cy="0.6" rx="2.3" ry="1.2" fill="#3200fa"/>
<ellipse cx="131.5" cy="2.9" rx="6.0" ry="3.3" fill="#3200fa"/>
<ellipse cx="181.4" cy="1.4" rx="5.3" ry="1.8" fill="#3200fa"/>
<ellipse cx="35.8" cy="8.5" rx="4.2" ry="3.8" fill="#2400b4"/>
<ellipse cx="52.6" cy="9.7" rx="1.5" ry="3.0" fill="#c418d8"/>
<ellipse cx="59.7" cy="8.9" rx="1.5" ry="3.0" fill="#c418d8"/>
<ellipse cx="72.1" cy="10.9" rx="2.7" ry="3.8" fill="#5a0ce6" transform="rotate(-30 72.1 10.9)"/>
<ellipse cx="83.9" cy="17.2" rx="4.2" ry="2.7" fill="#8e14c4"/>
<ellipse cx="83.9" cy="24.0" rx="3.8" ry="3.3" fill="#8e14c4"/>
<ellipse cx="164.0" cy="18.8" rx="5.3" ry="3.8" fill="#2400b4"/>
<ellipse cx="162.5" cy="24.0" rx="5.3" ry="4.2" fill="#2400b4"/>
<ellipse cx="74.8" cy="27.8" rx="4.1" ry="4.2" fill="#f01478"/>
<ellipse cx="55.6" cy="30.1" rx="3.8" ry="3.8" fill="#2400b4"/>
<ellipse cx="63.2" cy="36.1" rx="4.5" ry="4.8" fill="#5a0ce6"/>
<ellipse cx="85.4" cy="37.2" rx="5.3" ry="4.2" fill="#e8129a"/>
<ellipse cx="80.9" cy="43.7" rx="3.8" ry="3.8" fill="#2400b4"/>
<ellipse cx="120.4" cy="41.0" rx="5.3" ry="4.5" fill="#3200fa"/>
<ellipse cx="152.9" cy="41.0" rx="5.3" ry="5.7" fill="#8e14c4"/>
<ellipse cx="134.5" cy="46.0" rx="4.5" ry="4.2" fill="#f01478"/>
<ellipse cx="38.5" cy="52.8" rx="3.0" ry="4.5" fill="#2400b4"/>
<ellipse cx="91.0" cy="52.5" rx="5.0" ry="4.5" fill="#f01478"/>
<ellipse cx="176.1" cy="53.5" rx="6.8" ry="6.0" fill="#c418d8"/>
<ellipse cx="8.3" cy="62.6" rx="5.7" ry="4.8" fill="#8a0e6c"/>
<ellipse cx="114.1" cy="58.1" rx="8.3" ry="3.3" fill="#3200fa" transform="rotate(25 114.1 58.1)"/>
<ellipse cx="118.6" cy="64.9" rx="3.8" ry="4.5" fill="#3200fa"/>
<ellipse cx="57.4" cy="68.3" rx="4.2" ry="4.2" fill="#2400b4"/>
<ellipse cx="151.1" cy="70.1" rx="4.8" ry="5.3" fill="#ff12cc"/>
<ellipse cx="78.3" cy="71.7" rx="4.1" ry="3.8" fill="#3200fa"/>
<ellipse cx="91.7" cy="72.9" rx="3.3" ry="4.5" fill="#3200fa"/>
<ellipse cx="24.2" cy="77.2" rx="3.8" ry="4.2" fill="#3200fa"/>
<ellipse cx="44.6" cy="75.7" rx="2.7" ry="4.2" fill="#3200fa"/>
<ellipse cx="61.7" cy="86.8" rx="4.1" ry="3.0" fill="#3200fa"/>
<ellipse cx="122.7" cy="88.3" rx="4.2" ry="3.8" fill="#2400b4"/>
<ellipse cx="137.5" cy="91.3" rx="5.0" ry="5.0" fill="#3200fa"/>
<ellipse cx="170.5" cy="87.1" rx="5.0" ry="5.0" fill="#8e14c4"/>
<ellipse cx="2.7" cy="91.6" rx="3.0" ry="4.5" fill="#f01478"/>
<ellipse cx="47.6" cy="95.1" rx="3.8" ry="4.8" fill="#3200fa" transform="rotate(30 47.6 95.1)"/>
<ellipse cx="157.2" cy="96.9" rx="4.5" ry="5.3" fill="#f01478"/>
<ellipse cx="13.6" cy="99.6" rx="6.8" ry="3.8" fill="#2400b4"/>
<ellipse cx="12.1" cy="107.9" rx="3.8" ry="3.8" fill="#2400b4"/>
<ellipse cx="96.0" cy="104.1" rx="6.0" ry="6.8" fill="#3200fa"/>
<ellipse cx="63.5" cy="114.7" rx="6.0" ry="4.5" fill="#e8129a"/>
<ellipse cx="68.0" cy="121.5" rx="4.5" ry="5.7" fill="#e8129a"/>
<ellipse cx="172.3" cy="114.7" rx="4.5" ry="3.8" fill="#c418d8"/>
<ellipse cx="172.0" cy="120.0" rx="5.3" ry="4.5" fill="#c418d8"/>
<ellipse cx="13.3" cy="122.3" rx="2.7" ry="5.3" fill="#2400b4"/>
<ellipse cx="31.7" cy="126.8" rx="5.3" ry="5.0" fill="#2400b4"/>
<ellipse cx="123.2" cy="122.7" rx="6.8" ry="5.7" fill="#2400b4"/>
<ellipse cx="182.1" cy="124.5" rx="3.0" ry="3.3" fill="#3200fa"/>
<ellipse cx="99.7" cy="125.8" rx="6.3" ry="3.3" fill="#f01478" transform="rotate(15 99.7 125.8)"/>
<ellipse cx="98.5" cy="133.3" rx="4.5" ry="3.8" fill="#f01478"/>
<ellipse cx="153.8" cy="131.3" rx="7.6" ry="5.7" fill="#2400b4"/>
<ellipse cx="15.9" cy="135.1" rx="4.2" ry="3.8" fill="#2400b4"/>
<ellipse cx="3.8" cy="137.4" rx="3.0" ry="5.3" fill="#16006e"/>
<ellipse cx="41.6" cy="141.2" rx="4.5" ry="5.7" fill="#2400b4"/>
<ellipse cx="83.9" cy="139.7" rx="5.7" ry="5.0" fill="#16006e"/>
<ellipse cx="69.2" cy="143.4" rx="4.2" ry="6.0" fill="#16006e"/>
<ellipse cx="134.2" cy="141.5" rx="4.2" ry="4.2" fill="#2400b4"/>
<ellipse cx="171.2" cy="139.4" rx="7.3" ry="4.2" fill="#f01478"/>
<ellipse cx="142.8" cy="148.0" rx="4.5" ry="4.2" fill="#3200fa"/>
<ellipse cx="147.3" cy="151.0" rx="3.0" ry="2.7" fill="#3200fa"/>
<ellipse cx="107.6" cy="147.2" rx="5.7" ry="5.0" fill="#16006e"/>
<ellipse cx="53.6" cy="157.0" rx="4.8" ry="5.3" fill="#f01478"/>
<ellipse cx="86.1" cy="156.3" rx="4.5" ry="4.5" fill="#2400b4"/>
<ellipse cx="157.9" cy="157.8" rx="4.5" ry="5.3" fill="#2400b4"/>
<ellipse cx="184.1" cy="154.8" rx="3.8" ry="4.5" fill="#2400b4"/>
<ellipse cx="32.5" cy="166.1" rx="6.0" ry="6.0" fill="#16006e"/>
<ellipse cx="86.9" cy="165.3" rx="4.5" ry="4.2" fill="#2400b4"/>
<ellipse cx="103.5" cy="168.4" rx="5.3" ry="4.5" fill="#16006e"/>
<ellipse cx="142.1" cy="165.3" rx="5.3" ry="3.8" fill="#8a0e6c" transform="rotate(30 142.1 165.3)"/>
<ellipse cx="126.9" cy="163.8" rx="7.6" ry="5.3" fill="#16006e"/>
<ellipse cx="131.5" cy="176.7" rx="14.4" ry="9.1" fill="#1a0070"/>
<ellipse cx="184.4" cy="185.0" rx="3.8" ry="2.3" fill="#f01478"/>
<ellipse cx="3.0" cy="172.9" rx="2.3" ry="4.5" fill="#16006e"/>
</g></svg>
<svg x="1055.00" y="1054.40" width="187.90" height="187.40" viewBox="0 0 187.90 187.40" overflow="hidden">
<rect width="100%" height="100%" fill="#010004"/>
<g filter="url(#bl)">
<ellipse cx="0.8" cy="4.4" rx="1.5" ry="3.8" fill="#ff12cc"/>
<ellipse cx="25.8" cy="3.7" rx="5.3" ry="3.8" fill="#3200fa"/>
<ellipse cx="10.6" cy="8.2" rx="3.3" ry="3.3" fill="#3200fa"/>
<ellipse cx="88.9" cy="5.2" rx="6.1" ry="2.4" fill="#3200fa" transform="rotate(-25 88.9 5.2)"/>
<ellipse cx="117.7" cy="5.2" rx="4.6" ry="5.3" fill="#5a0ce6"/>
<ellipse cx="107.9" cy="8.2" rx="3.8" ry="3.3" fill="#3200fa"/>
<ellipse cx="78.2" cy="11.6" rx="4.3" ry="5.3" fill="#ff12cc"/>
<ellipse cx="60.5" cy="15.8" rx="2.7" ry="4.1" fill="#3200fa"/>
<ellipse cx="22.0" cy="15.8" rx="4.6" ry="4.3" fill="#3200fa"/>
<ellipse cx="6.8" cy="20.4" rx="4.3" ry="5.3" fill="#2400b4"/>
<ellipse cx="121.5" cy="16.6" rx="3.8" ry="3.0" fill="#3200fa"/>
<ellipse cx="128.4" cy="21.1" rx="3.0" ry="3.8" fill="#3200fa"/>
<ellipse cx="110.6" cy="21.9" rx="3.3" ry="5.3" fill="#8a0e6c"/>
<ellipse cx="85.5" cy="24.6" rx="3.3" ry="3.8" fill="#3200fa"/>
<ellipse cx="102.6" cy="26.5" rx="3.3" ry="3.3" fill="#2400b4"/>
<ellipse cx="68.4" cy="28.7" rx="4.3" ry="8.4" fill="#2400b4"/>
<ellipse cx="20.5" cy="31.0" rx="6.1" ry="4.6" fill="#ff12cc" transform="rotate(30 20.5 31.0)"/>
<ellipse cx="35.7" cy="31.0" rx="3.3" ry="4.3" fill="#3200fa"/>
<ellipse cx="133.7" cy="34.8" rx="4.9" ry="6.4" fill="#2400b4"/>
<ellipse cx="44.1" cy="37.4" rx="6.1" ry="3.8" fill="#5a0ce6"/>
<ellipse cx="3.8" cy="36.3" rx="3.0" ry="3.8" fill="#3200fa"/>
<ellipse cx="121.5" cy="40.1" rx="9.1" ry="4.0" fill="#c418d8" transform="rotate(25 121.5 40.1)"/>
<ellipse cx="32.7" cy="43.2" rx="4.3" ry="3.3" fill="#2400b4"/>
<ellipse cx="7.6" cy="45.0" rx="4.6" ry="3.0" fill="#2400b4" transform="rotate(-30 7.6 45.0)"/>
<ellipse cx="85.5" cy="45.9" rx="4.6" ry="5.0" fill="#ff12cc"/>
<ellipse cx="95.4" cy="44.4" rx="4.3" ry="4.9" fill="#3200fa"/>
<ellipse cx="54.2" cy="45.9" rx="3.8" ry="3.8" fill="#5a0ce6"/>
<ellipse cx="109.4" cy="50.0" rx="3.3" ry="4.1" fill="#3200fa"/>
<ellipse cx="120.0" cy="49.3" rx="3.8" ry="3.8" fill="#3200fa"/>
<ellipse cx="61.2" cy="52.3" rx="3.3" ry="4.3" fill="#3200fa"/>
<ellipse cx="70.3" cy="53.1" rx="3.8" ry="3.3" fill="#3200fa"/>
<ellipse cx="14.4" cy="53.8" rx="7.6" ry="7.6" fill="#3200fa"/>
<ellipse cx="25.8" cy="62.9" rx="6.8" ry="7.3" fill="#3200fa"/>
<ellipse cx="38.4" cy="56.1" rx="3.3" ry="4.6" fill="#3200fa"/>
<ellipse cx="47.9" cy="58.1" rx="3.3" ry="4.3" fill="#3200fa"/>
<ellipse cx="79.8" cy="57.3" rx="4.3" ry="4.6" fill="#e8129a"/>
<ellipse cx="97.2" cy="56.1" rx="4.6" ry="6.8" fill="#3200fa"/>
<ellipse cx="91.2" cy="61.4" rx="4.6" ry="2.3" fill="#3200fa"/>
<ellipse cx="125.3" cy="56.1" rx="3.8" ry="3.3" fill="#3200fa"/>
<ellipse cx="149.7" cy="63.2" rx="3.8" ry="4.3" fill="#ff12cc"/>
<ellipse cx="2.3" cy="64.4" rx="1.8" ry="3.0" fill="#3200fa"/>
<ellipse cx="53.9" cy="66.7" rx="3.0" ry="3.8" fill="#3200fa"/>
<ellipse cx="61.2" cy="68.2" rx="3.3" ry="4.3" fill="#3200fa"/>
<ellipse cx="70.6" cy="67.5" rx="3.3" ry="4.3" fill="#3200fa"/>
<ellipse cx="81.3" cy="71.6" rx="3.8" ry="4.9" fill="#2400b4"/>
<ellipse cx="98.8" cy="70.2" rx="5.3" ry="4.9" fill="#3200fa"/>
<ellipse cx="109.1" cy="68.2" rx="3.3" ry="3.3" fill="#3200fa"/>
<ellipse cx="46.8" cy="72.8" rx="2.7" ry="3.3" fill="#3200fa"/>
<ellipse cx="144.3" cy="74.3" rx="6.4" ry="5.3" fill="#5a0ce6"/>
<ellipse cx="39.5" cy="79.6" rx="6.4" ry="5.3" fill="#5a0ce6"/>
<ellipse cx="57.4" cy="77.8" rx="6.1" ry="5.0" fill="#3200fa"/>
<ellipse cx="108.6" cy="77.7" rx="6.1" ry="5.8" fill="#5a0ce6"/>
<ellipse cx="136.0" cy="80.9" rx="3.8" ry="4.6" fill="#3200fa"/>
<ellipse cx="152.7" cy="80.9" rx="3.0" ry="3.8" fill="#3200fa"/>
<ellipse cx="161.5" cy="83.4" rx="4.9" ry="5.3" fill="#5a0ce6"/>
<ellipse cx="9.9" cy="85.0" rx="4.6" ry="4.9" fill="#3200fa"/>
<ellipse cx="24.3" cy="89.2" rx="5.3" ry="6.1" fill="#3200fa"/>
<ellipse cx="73.4" cy="86.8" rx="5.8" ry="5.0" fill="#8e14c4"/>
<ellipse cx="153.8" cy="92.1" rx="5.3" ry="4.6" fill="#3200fa"/>
<ellipse cx="126.1" cy="91.0" rx="5.3" ry="3.8" fill="#2400b4"/>
<ellipse cx="55.9" cy="95.6" rx="4.6" ry="4.9" fill="#3200fa"/>
<ellipse cx="80.2" cy="97.4" rx="4.9" ry="5.3" fill="#3200fa"/>
<ellipse cx="66.8" cy="99.1" rx="4.9" ry="3.0" fill="#3200fa"/>
<ellipse cx="126.1" cy="99.1" rx="5.0" ry="3.3" fill="#2400b4"/>
<ellipse cx="9.9" cy="98.2" rx="3.0" ry="3.3" fill="#3200fa"/>
<ellipse cx="39.8" cy="100.2" rx="4.3" ry="2.7" fill="#2400b4"/>
<ellipse cx="50.9" cy="106.7" rx="3.3" ry="4.1" fill="#2400b4"/>
<ellipse cx="102.6" cy="111.9" rx="5.3" ry="4.1" fill="#ff12cc"/>
<ellipse cx="116.2" cy="110.8" rx="6.1" ry="5.0" fill="#3200fa"/>
<ellipse cx="62.3" cy="114.3" rx="4.6" ry="5.3" fill="#ff12cc"/>
<ellipse cx="151.9" cy="110.0" rx="4.3" ry="4.3" fill="#3200fa"/>
<ellipse cx="160.7" cy="108.5" rx="4.6" ry="4.6" fill="#3200fa" transform="rotate(-30 160.7 108.5)"/>
<ellipse cx="134.5" cy="113.8" rx="4.3" ry="4.6" fill="#2400b4"/>
<ellipse cx="141.3" cy="119.6" rx="4.9" ry="3.3" fill="#e8129a" transform="rotate(-25 141.3 119.6)"/>
<ellipse cx="156.8" cy="120.4" rx="2.7" ry="4.3" fill="#ff12cc"/>
<ellipse cx="82.8" cy="123.7" rx="5.3" ry="5.3" fill="#5a0ce6"/>
<ellipse cx="177.3" cy="128.0" rx="4.3" ry="4.6" fill="#c418d8"/>
<ellipse cx="96.5" cy="131.6" rx="4.9" ry="4.9" fill="#f01478"/>
<ellipse cx="73.7" cy="130.2" rx="4.9" ry="4.9" fill="#3200fa"/>
<ellipse cx="63.5" cy="132.1" rx="3.3" ry="3.8" fill="#3200fa"/>
<ellipse cx="167.1" cy="132.8" rx="6.8" ry="2.7" fill="#3200fa" transform="rotate(15 167.1 132.8)"/>
<ellipse cx="46.3" cy="135.1" rx="3.8" ry="3.0" fill="#3200fa"/>
<ellipse cx="56.7" cy="138.1" rx="3.8" ry="3.0" fill="#3200fa"/>
<ellipse cx="67.6" cy="139.7" rx="3.8" ry="3.3" fill="#3200fa"/>
<ellipse cx="77.5" cy="141.2" rx="3.0" ry="4.3" fill="#3200fa"/>
<ellipse cx="30.1" cy="142.7" rx="3.8" ry="3.3" fill="#3200fa"/>
<ellipse cx="48.3" cy="146.5" rx="3.0" ry="3.8" fill="#3200fa"/>
<ellipse cx="63.5" cy="148.0" rx="3.8" ry="3.8" fill="#3200fa"/>
<ellipse cx="156.8" cy="146.2" rx="4.6" ry="6.4" fill="#5a0ce6"/>
<ellipse cx="13.7" cy="154.8" rx="4.6" ry="4.6" fill="#2400b4"/>
<ellipse cx="74.0" cy="153.3" rx="4.3" ry="3.3" fill="#16006e"/>
<ellipse cx="136.3" cy="155.6" rx="6.1" ry="5.8" fill="#5a0ce6"/>
<ellipse cx="99.1" cy="157.1" rx="4.6" ry="4.3" fill="#ff12cc"/>
<ellipse cx="55.0" cy="158.2" rx="4.6" ry="3.8" fill="#8a0e6c"/>
<ellipse cx="88.9" cy="160.5" rx="5.3" ry="4.6" fill="#3200fa"/>
<ellipse cx="38.7" cy="164.7" rx="2.3" ry="6.1" fill="#2400b4" transform="rotate(-25 38.7 164.7)"/>
<ellipse cx="27.3" cy="167.0" rx="4.6" ry="4.6" fill="#16006e"/>
<ellipse cx="12.2" cy="169.3" rx="4.3" ry="3.8" fill="#16006e"/>
<ellipse cx="69.4" cy="172.0" rx="5.8" ry="4.6" fill="#3200fa"/>
<ellipse cx="56.7" cy="174.6" rx="3.8" ry="3.8" fill="#3200fa"/>
<ellipse cx="118.5" cy="175.1" rx="4.9" ry="4.3" fill="#3200fa"/>
<ellipse cx="142.1" cy="175.8" rx="4.9" ry="4.6" fill="#ff12cc"/>
<ellipse cx="155.0" cy="176.1" rx="6.1" ry="4.3" fill="#3200fa" transform="rotate(-35 155.0 176.1)"/>
<ellipse cx="10.6" cy="178.1" rx="4.6" ry="3.3" fill="#e8129a"/>
<ellipse cx="19.0" cy="179.9" rx="3.3" ry="3.8" fill="#3200fa"/>
<ellipse cx="43.0" cy="179.2" rx="3.8" ry="3.8" fill="#3200fa"/>
<ellipse cx="137.5" cy="184.5" rx="3.3" ry="3.0" fill="#3200fa"/>
<ellipse cx="145.9" cy="185.2" rx="3.0" ry="2.7" fill="#3200fa"/>
<ellipse cx="32.7" cy="185.2" rx="3.8" ry="2.3" fill="#16006e"/>
</g></svg>
<svg x="853.00" y="1269.80" width="188.00" height="185.90" viewBox="0 0 188.00 185.90" overflow="hidden">
<rect width="100%" height="100%" fill="#120408"/>
<g filter="url(#bl)">
<ellipse cx="15.9" cy="15.1" rx="4.2" ry="4.5" fill="#5a0ce6"/>
<ellipse cx="38.5" cy="13.3" rx="4.8" ry="4.8" fill="#2400b4"/>
<ellipse cx="3.3" cy="23.1" rx="2.3" ry="3.0" fill="#2400b4"/>
<ellipse cx="18.9" cy="27.7" rx="3.8" ry="3.3" fill="#8a0e6c"/>
<ellipse cx="31.0" cy="33.0" rx="3.8" ry="3.8" fill="#16006e"/>
<ellipse cx="62.7" cy="22.4" rx="3.8" ry="3.8" fill="#2400b4"/>
<ellipse cx="83.1" cy="15.1" rx="4.2" ry="3.0" fill="#8a0e6c"/>
<ellipse cx="101.0" cy="7.0" rx="3.3" ry="3.8" fill="#2400b4"/>
<ellipse cx="111.1" cy="6.5" rx="2.3" ry="4.2" fill="#2400b4" transform="rotate(20 111.1 6.5)"/>
<ellipse cx="120.1" cy="9.1" rx="3.8" ry="4.2" fill="#c01464"/>
<ellipse cx="131.5" cy="2.7" rx="3.0" ry="2.3" fill="#2400b4"/>
<ellipse cx="151.1" cy="6.5" rx="3.3" ry="4.2" fill="#c01464"/>
<ellipse cx="142.8" cy="11.0" rx="3.3" ry="3.8" fill="#2400b4"/>
<ellipse cx="160.2" cy="11.0" rx="5.3" ry="5.3" fill="#2400b4"/>
<ellipse cx="172.3" cy="12.6" rx="3.8" ry="4.2" fill="#c01464"/>
<ellipse cx="176.1" cy="4.2" rx="2.7" ry="3.3" fill="#2400b4"/>
<ellipse cx="185.6" cy="5.0" rx="2.7" ry="4.5" fill="#c01464"/>
<ellipse cx="123.6" cy="19.4" rx="3.8" ry="3.3" fill="#8c1aa6"/>
<ellipse cx="112.6" cy="21.6" rx="3.3" ry="3.3" fill="#2400b4"/>
<ellipse cx="106.5" cy="25.9" rx="2.7" ry="3.8" fill="#2400b4"/>
<ellipse cx="89.2" cy="26.6" rx="4.2" ry="3.3" fill="#16006e"/>
<ellipse cx="139.0" cy="20.9" rx="3.8" ry="3.8" fill="#2400b4"/>
<ellipse cx="151.9" cy="22.4" rx="5.0" ry="7.6" fill="#4410e4" transform="rotate(-15 151.9 22.4)"/>
<ellipse cx="167.7" cy="23.1" rx="4.2" ry="4.2" fill="#8c1aa6"/>
<ellipse cx="176.1" cy="27.7" rx="3.3" ry="3.8" fill="#8c1aa6"/>
<ellipse cx="184.7" cy="18.6" rx="3.0" ry="3.3" fill="#2400b4"/>
<ellipse cx="147.3" cy="33.0" rx="3.3" ry="4.2" fill="#2400b4"/>
<ellipse cx="157.2" cy="37.8" rx="3.0" ry="4.2" fill="#2400b4"/>
<ellipse cx="165.5" cy="39.8" rx="3.8" ry="3.8" fill="#2400b4"/>
<ellipse cx="184.7" cy="38.2" rx="4.5" ry="5.3" fill="#8a0c4a"/>
<ellipse cx="1.5" cy="38.2" rx="1.5" ry="2.7" fill="#8a0e6c"/>
<ellipse cx="23.4" cy="42.8" rx="3.8" ry="4.2" fill="#8c1aa6"/>
<ellipse cx="8.3" cy="43.5" rx="4.2" ry="3.3" fill="#2400b4"/>
<ellipse cx="16.9" cy="48.1" rx="4.2" ry="3.3" fill="#c01464"/>
<ellipse cx="77.8" cy="41.0" rx="3.8" ry="3.8" fill="#8a0e6c"/>
<ellipse cx="96.4" cy="38.7" rx="4.2" ry="3.8" fill="#2400b4"/>
<ellipse cx="48.4" cy="46.6" rx="5.0" ry="9.1" fill="#8c1aa6" transform="rotate(-20 48.4 46.6)"/>
<ellipse cx="123.2" cy="45.0" rx="6.0" ry="5.0" fill="#4410e4"/>
<ellipse cx="91.1" cy="51.1" rx="3.8" ry="3.8" fill="#2400b4"/>
<ellipse cx="150.1" cy="48.1" rx="3.8" ry="4.2" fill="#2400b4"/>
<ellipse cx="154.9" cy="56.4" rx="3.8" ry="3.3" fill="#2400b4"/>
<ellipse cx="126.2" cy="56.4" rx="4.8" ry="2.1" fill="#4410e4"/>
<ellipse cx="38.2" cy="55.6" rx="4.5" ry="4.5" fill="#16006e"/>
<ellipse cx="63.5" cy="55.6" rx="4.2" ry="5.0" fill="#5a0ce6"/>
<ellipse cx="76.8" cy="57.9" rx="3.8" ry="3.0" fill="#2400b4"/>
<ellipse cx="14.4" cy="57.9" rx="4.2" ry="3.8" fill="#8a0e6c"/>
<ellipse cx="7.3" cy="60.9" rx="3.8" ry="4.5" fill="#c01464"/>
<ellipse cx="124.7" cy="65.5" rx="4.2" ry="3.3" fill="#16006e"/>
<ellipse cx="43.1" cy="63.9" rx="3.8" ry="3.3" fill="#2400b4"/>
<ellipse cx="40.0" cy="69.2" rx="5.3" ry="4.5" fill="#c01464"/>
<ellipse cx="53.6" cy="70.4" rx="4.5" ry="4.8" fill="#c01464"/>
<ellipse cx="17.4" cy="68.5" rx="3.8" ry="5.3" fill="#c01464"/>
<ellipse cx="76.3" cy="69.2" rx="4.2" ry="3.0" fill="#2400b4"/>
<ellipse cx="25.7" cy="73.8" rx="3.8" ry="3.8" fill="#2400b4"/>
<ellipse cx="162.9" cy="70.0" rx="6.8" ry="8.3" fill="#4410e4"/>
<ellipse cx="104.0" cy="74.5" rx="3.3" ry="3.8" fill="#2400b4"/>
<ellipse cx="131.5" cy="77.5" rx="6.0" ry="2.7" fill="#16006e"/>
<ellipse cx="53.2" cy="81.8" rx="4.2" ry="4.5" fill="#5a0ce6"/>
<ellipse cx="34.8" cy="82.1" rx="4.8" ry="5.3" fill="#c01464"/>
<ellipse cx="19.3" cy="85.1" rx="4.2" ry="5.3" fill="#c01464" transform="rotate(30 19.3 85.1)"/>
<ellipse cx="86.9" cy="81.8" rx="3.8" ry="3.3" fill="#2400b4"/>
<ellipse cx="106.5" cy="83.6" rx="3.8" ry="3.0" fill="#2400b4"/>
<ellipse cx="117.1" cy="88.6" rx="5.0" ry="6.3" fill="#4410e4"/>
<ellipse cx="101.3" cy="89.6" rx="6.0" ry="3.8" fill="#8c1aa6"/>
<ellipse cx="59.7" cy="92.7" rx="4.5" ry="3.8" fill="#8c1aa6"/>
<ellipse cx="75.6" cy="92.7" rx="3.9" ry="6.0" fill="#6414ff"/>
<ellipse cx="38.1" cy="101.7" rx="4.8" ry="3.8" fill="#8a0c4a"/>
<ellipse cx="56.7" cy="102.5" rx="4.2" ry="4.2" fill="#5a0ce6"/>
<ellipse cx="72.2" cy="103.2" rx="3.8" ry="4.2" fill="#2400b4"/>
<ellipse cx="95.2" cy="101.7" rx="4.5" ry="4.5" fill="#5a0ce6"/>
<ellipse cx="107.3" cy="100.2" rx="6.0" ry="3.0" fill="#2400b4" transform="rotate(25 107.3 100.2)"/>
<ellipse cx="176.5" cy="101.7" rx="4.2" ry="6.0" fill="#c01464"/>
<ellipse cx="46.1" cy="109.7" rx="4.5" ry="3.3" fill="#c01464"/>
<ellipse cx="86.9" cy="107.8" rx="3.0" ry="4.2" fill="#2400b4"/>
<ellipse cx="155.4" cy="109.3" rx="5.3" ry="6.8" fill="#5a0ce6"/>
<ellipse cx="186.2" cy="113.1" rx="2.3" ry="4.5" fill="#2400b4"/>
<ellipse cx="82.4" cy="113.8" rx="3.8" ry="3.8" fill="#8a0e6c"/>
<ellipse cx="100.5" cy="114.6" rx="3.9" ry="6.8" fill="#8c1aa6" transform="rotate(-20 100.5 114.6)"/>
<ellipse cx="74.8" cy="117.6" rx="5.3" ry="5.7" fill="#5a0ce6"/>
<ellipse cx="17.8" cy="118.3" rx="2.7" ry="3.0" fill="#3200fa"/>
<ellipse cx="26.9" cy="117.6" rx="3.3" ry="3.3" fill="#2400b4"/>
<ellipse cx="37.8" cy="120.3" rx="3.8" ry="3.8" fill="#2400b4"/>
<ellipse cx="9.4" cy="122.9" rx="4.2" ry="3.0" fill="#2400b4" transform="rotate(20 9.4 122.9)"/>
<ellipse cx="55.9" cy="123.6" rx="5.3" ry="3.3" fill="#16006e"/>
<ellipse cx="126.9" cy="122.1" rx="4.5" ry="3.8" fill="#2400b4"/>
<ellipse cx="139.0" cy="122.1" rx="3.9" ry="6.3" fill="#2400b4" transform="rotate(-30 139.0 122.1)"/>
<ellipse cx="170.5" cy="127.4" rx="4.5" ry="4.5" fill="#e41480"/>
<ellipse cx="157.9" cy="135.4" rx="4.2" ry="5.3" fill="#e41480"/>
<ellipse cx="43.1" cy="131.9" rx="4.5" ry="3.3" fill="#2400b4" transform="rotate(30 43.1 131.9)"/>
<ellipse cx="59.7" cy="135.7" rx="4.8" ry="4.2" fill="#16006e"/>
<ellipse cx="98.5" cy="133.5" rx="4.8" ry="4.2" fill="#8c1aa6"/>
<ellipse cx="139.8" cy="137.2" rx="3.8" ry="4.5" fill="#2400b4"/>
<ellipse cx="178.3" cy="140.0" rx="5.3" ry="5.7" fill="#5a0ce6"/>
<ellipse cx="36.7" cy="140.0" rx="4.5" ry="5.0" fill="#c01464"/>
<ellipse cx="94.5" cy="144.0" rx="5.7" ry="3.3" fill="#2400b4"/>
<ellipse cx="11.3" cy="147.1" rx="1.8" ry="1.8" fill="#c418d8"/>
<ellipse cx="5.3" cy="151.6" rx="1.8" ry="2.3" fill="#5a0ce6"/>
<ellipse cx="113.3" cy="150.1" rx="1.8" ry="2.7" fill="#c040f8"/>
<ellipse cx="119.1" cy="152.0" rx="1.8" ry="2.3" fill="#c040f8"/>
<ellipse cx="129.7" cy="149.3" rx="3.0" ry="3.3" fill="#2400b4"/>
<ellipse cx="136.8" cy="151.6" rx="3.0" ry="3.0" fill="#2400b4"/>
<ellipse cx="146.9" cy="149.3" rx="4.2" ry="4.8" fill="#5a0ce6"/>
<ellipse cx="156.4" cy="156.9" rx="4.2" ry="3.8" fill="#6414ff"/>
<ellipse cx="182.9" cy="155.4" rx="4.5" ry="5.3" fill="#3200fa"/>
<ellipse cx="54.1" cy="152.3" rx="4.5" ry="5.3" fill="#c01464"/>
<ellipse cx="75.3" cy="155.4" rx="3.0" ry="6.0" fill="#2400b4"/>
<ellipse cx="68.8" cy="156.9" rx="2.3" ry="5.3" fill="#16006e"/>
<ellipse cx="124.7" cy="159.9" rx="5.3" ry="6.0" fill="#2400b4"/>
<ellipse cx="98.2" cy="165.9" rx="7.6" ry="6.8" fill="#2400b4"/>
<ellipse cx="120.1" cy="167.5" rx="3.3" ry="3.8" fill="#2400b4"/>
<ellipse cx="43.1" cy="175.8" rx="5.3" ry="5.7" fill="#5a0ce6"/>
<ellipse cx="88.4" cy="178.0" rx="4.2" ry="4.2" fill="#c01464"/>
<ellipse cx="98.2" cy="183.3" rx="4.5" ry="2.7" fill="#c01464"/>
<ellipse cx="75.6" cy="179.6" rx="3.0" ry="5.3" fill="#2400b4"/>
<ellipse cx="66.2" cy="179.6" rx="3.0" ry="4.2" fill="#16006e"/>
</g></svg>
<svg x="1055.00" y="1269.80" width="187.90" height="185.90" viewBox="0 0 187.90 185.90" overflow="hidden">
<rect width="100%" height="100%" fill="#020004"/>
<g filter="url(#bl)">
<ellipse cx="3.8" cy="9.6" rx="3.8" ry="5.3" fill="#2400b4"/>
<ellipse cx="22.8" cy="22.5" rx="5.8" ry="5.3" fill="#2400b4"/>
<ellipse cx="34.6" cy="20.2" rx="6.1" ry="6.8" fill="#2400b4"/>
<ellipse cx="60.0" cy="14.2" rx="3.8" ry="4.3" fill="#4410e4"/>
<ellipse cx="80.5" cy="11.9" rx="4.3" ry="2.7" fill="#4410e4"/>
<ellipse cx="78.7" cy="17.2" rx="2.7" ry="3.0" fill="#c040f8"/>
<ellipse cx="70.2" cy="20.7" rx="4.9" ry="5.3" fill="#c01464"/>
<ellipse cx="88.1" cy="2.8" rx="4.6" ry="2.7" fill="#4410e4"/>
<ellipse cx="103.3" cy="1.2" rx="3.0" ry="1.8" fill="#4410e4"/>
<ellipse cx="117.0" cy="2.0" rx="4.6" ry="2.7" fill="#4410e4"/>
<ellipse cx="104.1" cy="12.6" rx="4.3" ry="3.3" fill="#4410e4"/>
<ellipse cx="114.7" cy="18.0" rx="3.8" ry="4.3" fill="#4410e4"/>
<ellipse cx="104.8" cy="21.7" rx="3.3" ry="4.6" fill="#4410e4"/>
<ellipse cx="142.8" cy="16.4" rx="5.3" ry="4.3" fill="#2400b4"/>
<ellipse cx="168.6" cy="21.0" rx="3.3" ry="4.3" fill="#4410e4"/>
<ellipse cx="166.4" cy="27.1" rx="5.3" ry="6.1" fill="#6414ff"/>
<ellipse cx="159.5" cy="31.9" rx="3.0" ry="3.8" fill="#4410e4"/>
<ellipse cx="88.1" cy="27.8" rx="4.9" ry="4.9" fill="#4410e4"/>
<ellipse cx="117.0" cy="28.6" rx="4.3" ry="4.3" fill="#4410e4"/>
<ellipse cx="131.4" cy="29.3" rx="3.8" ry="4.3" fill="#4410e4"/>
<ellipse cx="143.6" cy="28.6" rx="3.8" ry="3.8" fill="#4410e4"/>
<ellipse cx="55.5" cy="30.9" rx="4.3" ry="4.3" fill="#4410e4"/>
<ellipse cx="66.1" cy="30.1" rx="3.8" ry="3.8" fill="#4410e4"/>
<ellipse cx="78.2" cy="33.9" rx="4.9" ry="4.3" fill="#4410e4"/>
<ellipse cx="104.1" cy="34.7" rx="5.8" ry="4.6" fill="#4410e4"/>
<ellipse cx="146.6" cy="38.5" rx="4.9" ry="3.8" fill="#4410e4"/>
<ellipse cx="41.0" cy="35.4" rx="3.3" ry="4.6" fill="#4410e4"/>
<ellipse cx="8.4" cy="43.0" rx="3.8" ry="4.6" fill="#4410e4"/>
<ellipse cx="22.0" cy="46.8" rx="3.0" ry="5.3" fill="#4410e4"/>
<ellipse cx="29.6" cy="45.3" rx="3.3" ry="4.6" fill="#4410e4"/>
<ellipse cx="44.1" cy="43.3" rx="4.3" ry="4.3" fill="#e41480"/>
<ellipse cx="67.6" cy="41.5" rx="4.3" ry="4.6" fill="#4410e4"/>
<ellipse cx="55.5" cy="46.8" rx="4.3" ry="4.6" fill="#4410e4"/>
<ellipse cx="100.3" cy="44.5" rx="3.8" ry="5.8" fill="#4410e4"/>
<ellipse cx="91.9" cy="47.6" rx="3.8" ry="3.8" fill="#4410e4"/>
<ellipse cx="117.7" cy="46.5" rx="3.8" ry="5.3" fill="#4410e4"/>
<ellipse cx="137.5" cy="45.0" rx="5.3" ry="3.3" fill="#4410e4"/>
<ellipse cx="180.0" cy="49.9" rx="5.3" ry="5.3" fill="#4410e4"/>
<ellipse cx="12.9" cy="52.1" rx="3.8" ry="4.3" fill="#4410e4"/>
<ellipse cx="32.7" cy="54.4" rx="3.8" ry="6.4" fill="#c01464"/>
<ellipse cx="37.7" cy="50.6" rx="3.0" ry="4.3" fill="#4410e4"/>
<ellipse cx="3.3" cy="58.2" rx="2.7" ry="4.6" fill="#4410e4"/>
<ellipse cx="25.1" cy="62.8" rx="4.3" ry="4.6" fill="#4410e4"/>
<ellipse cx="13.7" cy="63.5" rx="4.6" ry="3.8" fill="#2400b4"/>
<ellipse cx="50.1" cy="61.7" rx="4.6" ry="4.3" fill="#2400b4"/>
<ellipse cx="71.4" cy="56.7" rx="5.3" ry="5.3" fill="#4410e4"/>
<ellipse cx="75.7" cy="65.0" rx="5.3" ry="6.8" fill="#4410e4"/>
<ellipse cx="87.8" cy="60.2" rx="3.8" ry="4.3" fill="#4410e4"/>
<ellipse cx="106.4" cy="59.0" rx="4.6" ry="4.3" fill="#c01464"/>
<ellipse cx="122.0" cy="59.0" rx="4.3" ry="4.9" fill="#c01464"/>
<ellipse cx="131.4" cy="54.1" rx="3.8" ry="4.6" fill="#4410e4"/>
<ellipse cx="138.0" cy="62.0" rx="4.3" ry="3.8" fill="#4410e4"/>
<ellipse cx="155.0" cy="54.4" rx="3.8" ry="5.3" fill="#8a0c4a"/>
<ellipse cx="168.3" cy="66.9" rx="4.3" ry="4.6" fill="#5a0ce6"/>
<ellipse cx="156.2" cy="68.4" rx="4.3" ry="3.8" fill="#4410e4"/>
<ellipse cx="17.9" cy="68.8" rx="3.3" ry="3.8" fill="#2400b4"/>
<ellipse cx="2.7" cy="71.1" rx="2.7" ry="3.8" fill="#4410e4"/>
<ellipse cx="27.0" cy="72.6" rx="4.9" ry="4.3" fill="#4410e4"/>
<ellipse cx="44.4" cy="71.1" rx="4.3" ry="4.6" fill="#4410e4"/>
<ellipse cx="12.2" cy="78.3" rx="4.6" ry="3.3" fill="#4410e4"/>
<ellipse cx="97.2" cy="72.6" rx="3.3" ry="3.3" fill="#6414ff"/>
<ellipse cx="107.9" cy="74.9" rx="3.3" ry="4.6" fill="#4410e4"/>
<ellipse cx="118.5" cy="71.1" rx="4.6" ry="4.3" fill="#4410e4"/>
<ellipse cx="149.7" cy="76.4" rx="4.6" ry="3.8" fill="#4410e4"/>
<ellipse cx="33.7" cy="80.2" rx="3.0" ry="3.8" fill="#4410e4"/>
<ellipse cx="66.5" cy="81.0" rx="4.3" ry="5.0" fill="#4410e4"/>
<ellipse cx="85.8" cy="80.2" rx="4.6" ry="5.3" fill="#4410e4"/>
<ellipse cx="126.1" cy="80.2" rx="5.3" ry="3.3" fill="#4410e4"/>
<ellipse cx="143.6" cy="84.8" rx="4.6" ry="4.3" fill="#4410e4"/>
<ellipse cx="158.0" cy="89.1" rx="3.3" ry="5.3" fill="#4410e4"/>
<ellipse cx="25.1" cy="90.9" rx="4.3" ry="4.9" fill="#16006e"/>
<ellipse cx="39.8" cy="87.8" rx="3.8" ry="5.0" fill="#4410e4"/>
<ellipse cx="49.4" cy="88.6" rx="3.3" ry="4.6" fill="#4410e4"/>
<ellipse cx="57.4" cy="87.8" rx="4.3" ry="4.6" fill="#4410e4"/>
<ellipse cx="90.4" cy="88.6" rx="4.6" ry="4.6" fill="#4410e4"/>
<ellipse cx="132.9" cy="90.1" rx="4.6" ry="3.0" fill="#4410e4"/>
<ellipse cx="84.3" cy="93.6" rx="3.8" ry="4.6" fill="#4410e4"/>
<ellipse cx="42.2" cy="98.8" rx="4.6" ry="4.3" fill="#4410e4"/>
<ellipse cx="78.7" cy="98.5" rx="4.3" ry="4.6" fill="#4410e4"/>
<ellipse cx="110.1" cy="97.7" rx="4.6" ry="4.3" fill="#4410e4"/>
<ellipse cx="128.1" cy="99.2" rx="5.3" ry="2.7" fill="#4410e4"/>
<ellipse cx="139.8" cy="101.5" rx="3.8" ry="4.3" fill="#4410e4"/>
<ellipse cx="150.4" cy="97.0" rx="3.8" ry="4.6" fill="#4410e4"/>
<ellipse cx="62.3" cy="102.3" rx="4.9" ry="4.3" fill="#4410e4"/>
<ellipse cx="89.3" cy="104.6" rx="4.6" ry="4.9" fill="#4410e4"/>
<ellipse cx="128.4" cy="107.3" rx="3.3" ry="3.3" fill="#6414ff"/>
<ellipse cx="135.2" cy="106.8" rx="2.7" ry="2.3" fill="#4410e4"/>
<ellipse cx="159.5" cy="105.3" rx="3.3" ry="4.9" fill="#4410e4"/>
<ellipse cx="102.6" cy="110.6" rx="4.6" ry="4.3" fill="#4410e4"/>
<ellipse cx="118.2" cy="110.9" rx="3.8" ry="4.3" fill="#4410e4"/>
<ellipse cx="134.5" cy="112.5" rx="3.3" ry="3.0" fill="#6414ff"/>
<ellipse cx="143.1" cy="112.5" rx="2.3" ry="2.3" fill="#6414ff"/>
<ellipse cx="129.1" cy="116.4" rx="3.0" ry="3.3" fill="#4410e4"/>
<ellipse cx="148.9" cy="116.4" rx="3.8" ry="3.8" fill="#c040f8"/>
<ellipse cx="66.1" cy="118.2" rx="3.0" ry="3.8" fill="#4410e4"/>
<ellipse cx="71.4" cy="115.9" rx="3.3" ry="4.6" fill="#4410e4"/>
<ellipse cx="79.0" cy="115.9" rx="3.0" ry="4.6" fill="#4410e4"/>
<ellipse cx="58.5" cy="121.3" rx="3.0" ry="4.6" fill="#4410e4"/>
<ellipse cx="106.0" cy="117.9" rx="3.8" ry="4.3" fill="#4410e4"/>
<ellipse cx="84.3" cy="122.0" rx="4.6" ry="3.8" fill="#4410e4"/>
<ellipse cx="91.9" cy="119.7" rx="3.3" ry="4.3" fill="#4410e4"/>
<ellipse cx="102.1" cy="124.3" rx="3.8" ry="4.9" fill="#4410e4"/>
<ellipse cx="60.0" cy="127.3" rx="3.3" ry="3.0" fill="#4410e4"/>
<ellipse cx="158.0" cy="125.5" rx="4.9" ry="5.0" fill="#6414ff"/>
<ellipse cx="120.8" cy="128.1" rx="4.6" ry="5.8" fill="#2400b4"/>
<ellipse cx="90.9" cy="128.9" rx="3.3" ry="4.6" fill="#4410e4"/>
<ellipse cx="68.1" cy="131.1" rx="3.0" ry="3.3" fill="#4410e4"/>
<ellipse cx="146.6" cy="129.2" rx="4.3" ry="4.6" fill="#4410e4"/>
<ellipse cx="139.8" cy="134.2" rx="4.6" ry="5.8" fill="#4410e4"/>
<ellipse cx="99.5" cy="138.0" rx="3.8" ry="4.9" fill="#4410e4"/>
<ellipse cx="72.2" cy="140.3" rx="4.6" ry="3.8" fill="#4410e4"/>
<ellipse cx="81.3" cy="140.3" rx="3.8" ry="4.6" fill="#4410e4"/>
<ellipse cx="108.2" cy="142.5" rx="3.8" ry="4.9" fill="#4410e4"/>
<ellipse cx="127.6" cy="143.3" rx="5.3" ry="4.3" fill="#4410e4"/>
<ellipse cx="147.7" cy="145.6" rx="5.3" ry="5.3" fill="#2400b4"/>
<ellipse cx="95.0" cy="147.9" rx="5.3" ry="4.3" fill="#2400b4"/>
<ellipse cx="78.7" cy="151.6" rx="4.3" ry="4.6" fill="#4410e4"/>
<ellipse cx="122.3" cy="153.2" rx="5.3" ry="3.3" fill="#4410e4"/>
<ellipse cx="103.3" cy="157.7" rx="4.6" ry="4.3" fill="#4410e4"/>
<ellipse cx="75.2" cy="162.3" rx="4.6" ry="4.6" fill="#4410e4"/>
<ellipse cx="92.7" cy="162.3" rx="4.3" ry="4.6" fill="#4410e4"/>
<ellipse cx="119.3" cy="160.8" rx="4.9" ry="4.3" fill="#4410e4"/>
<ellipse cx="137.5" cy="163.0" rx="3.8" ry="4.6" fill="#4410e4"/>
<ellipse cx="106.4" cy="166.1" rx="4.3" ry="4.3" fill="#4410e4"/>
<ellipse cx="88.9" cy="171.4" rx="4.9" ry="4.3" fill="#4410e4"/>
<ellipse cx="101.5" cy="170.6" rx="4.6" ry="4.6" fill="#4410e4"/>
<ellipse cx="116.2" cy="169.9" rx="3.8" ry="5.0" fill="#4410e4"/>
<ellipse cx="133.7" cy="172.9" rx="6.1" ry="6.1" fill="#4410e4"/>
<ellipse cx="147.4" cy="172.9" rx="4.6" ry="5.8" fill="#4410e4"/>
<ellipse cx="120.0" cy="179.8" rx="4.3" ry="3.3" fill="#4410e4"/>
<ellipse cx="77.2" cy="183.6" rx="3.8" ry="2.7" fill="#4410e4"/>
<ellipse cx="110.9" cy="182.8" rx="3.8" ry="3.0" fill="#4410e4"/>
<ellipse cx="129.9" cy="184.3" rx="3.8" ry="2.3" fill="#4410e4"/>
</g></svg>
<svg x="853.00" y="1464.60" width="187.00" height="187.20" viewBox="0 0 187.00 187.20" overflow="hidden">
<rect width="100%" height="100%" fill="#020004"/>
<g filter="url(#bl)">
<ellipse cx="122.1" cy="14.2" rx="3.2" ry="3.0" fill="#3200fa" transform="rotate(30 122.1 14.2)"/>
<ellipse cx="7.7" cy="81.3" rx="2.9" ry="2.6" fill="#5a0ce6"/>
<ellipse cx="9.4" cy="160.3" rx="3.0" ry="2.7" fill="#3200fa" transform="rotate(60 9.4 160.3)"/>
<ellipse cx="116.1" cy="93.1" rx="3.2" ry="3.5" fill="#5a0ce6" transform="rotate(-30 116.1 93.1)"/>
<ellipse cx="68.2" cy="47.0" rx="3.0" ry="3.2" fill="#3200fa" transform="rotate(60 68.2 47.0)"/>
<ellipse cx="136.6" cy="54.2" rx="3.5" ry="3.0" fill="#5a0ce6" transform="rotate(30 136.6 54.2)"/>
<ellipse cx="59.2" cy="129.9" rx="3.2" ry="3.3" fill="#5a0ce6"/>
<ellipse cx="89.2" cy="124.2" rx="2.9" ry="3.0" fill="#5a0ce6" transform="rotate(60 89.2 124.2)"/>
<ellipse cx="66.9" cy="114.2" rx="3.2" ry="2.9" fill="#3200fa" transform="rotate(30 66.9 114.2)"/>
<ellipse cx="138.3" cy="74.6" rx="3.5" ry="3.5" fill="#4410e4" transform="rotate(-30 138.3 74.6)"/>
<ellipse cx="26.3" cy="80.8" rx="3.2" ry="3.5" fill="#3200fa" transform="rotate(-30 26.3 80.8)"/>
<ellipse cx="179.2" cy="28.8" rx="3.0" ry="2.7" fill="#4410e4"/>
<ellipse cx="91.1" cy="110.3" rx="3.0" ry="2.6" fill="#5a0ce6" transform="rotate(60 91.1 110.3)"/>
<ellipse cx="90.5" cy="75.2" rx="3.0" ry="3.5" fill="#5a0ce6" transform="rotate(30 90.5 75.2)"/>
<ellipse cx="39.4" cy="70.7" rx="3.3" ry="3.6" fill="#3200fa" transform="rotate(-30 39.4 70.7)"/>
<ellipse cx="19.8" cy="64.3" rx="3.0" ry="3.3" fill="#4410e4"/>
<ellipse cx="97.3" cy="169.5" rx="3.0" ry="2.9" fill="#3200fa" transform="rotate(30 97.3 169.5)"/>
<ellipse cx="142.1" cy="37.0" rx="3.0" ry="2.9" fill="#4410e4" transform="rotate(30 142.1 37.0)"/>
<ellipse cx="97.2" cy="66.8" rx="2.9" ry="2.4" fill="#3200fa" transform="rotate(-30 97.2 66.8)"/>
<ellipse cx="178.8" cy="68.6" rx="3.0" ry="2.7" fill="#4410e4" transform="rotate(60 178.8 68.6)"/>
<ellipse cx="149.8" cy="16.4" rx="3.3" ry="3.6" fill="#4410e4" transform="rotate(-30 149.8 16.4)"/>
<ellipse cx="166.4" cy="81.4" rx="3.3" ry="2.9" fill="#5a0ce6" transform="rotate(-30 166.4 81.4)"/>
<ellipse cx="135.9" cy="32.3" rx="3.0" ry="2.6" fill="#5a0ce6" transform="rotate(30 135.9 32.3)"/>
<ellipse cx="114.7" cy="111.5" rx="3.2" ry="3.6" fill="#4410e4" transform="rotate(30 114.7 111.5)"/>
<ellipse cx="136.2" cy="19.8" rx="3.3" ry="3.0" fill="#4410e4" transform="rotate(30 136.2 19.8)"/>
<ellipse cx="156.3" cy="12.1" rx="3.3" ry="3.8" fill="#5a0ce6" transform="rotate(30 156.3 12.1)"/>
<ellipse cx="99.9" cy="98.0" rx="2.9" ry="2.9" fill="#4410e4"/>
<ellipse cx="145.4" cy="28.5" rx="3.0" ry="3.0" fill="#3200fa"/>
<ellipse cx="20.6" cy="104.9" rx="3.0" ry="2.9" fill="#3200fa" transform="rotate(-30 20.6 104.9)"/>
<ellipse cx="96.1" cy="129.5" rx="3.2" ry="3.2" fill="#5a0ce6" transform="rotate(30 96.1 129.5)"/>
<ellipse cx="176.4" cy="48.9" rx="3.2" ry="3.6" fill="#5a0ce6" transform="rotate(30 176.4 48.9)"/>
<ellipse cx="80.6" cy="40.3" rx="3.0" ry="2.7" fill="#4410e4" transform="rotate(60 80.6 40.3)"/>
<ellipse cx="181.0" cy="41.5" rx="3.5" ry="3.3" fill="#5a0ce6" transform="rotate(30 181.0 41.5)"/>
<ellipse cx="135.3" cy="4.4" rx="3.2" ry="3.2" fill="#3200fa" transform="rotate(-30 135.3 4.4)"/>
<ellipse cx="170.6" cy="152.9" rx="3.0" ry="2.7" fill="#5a0ce6" transform="rotate(60 170.6 152.9)"/>
<ellipse cx="129.1" cy="79.8" rx="2.9" ry="3.3" fill="#3200fa" transform="rotate(60 129.1 79.8)"/>
<ellipse cx="16.3" cy="159.9" rx="2.9" ry="3.2" fill="#5a0ce6"/>
<ellipse cx="24.8" cy="98.7" rx="3.0" ry="2.7" fill="#4410e4" transform="rotate(60 24.8 98.7)"/>
<ellipse cx="94.0" cy="33.8" rx="3.0" ry="2.6" fill="#3200fa"/>
<ellipse cx="81.3" cy="92.8" rx="3.3" ry="3.3" fill="#3200fa" transform="rotate(30 81.3 92.8)"/>
<ellipse cx="138.9" cy="48.2" rx="3.0" ry="2.6" fill="#5a0ce6" transform="rotate(60 138.9 48.2)"/>
<ellipse cx="68.6" cy="61.9" rx="3.5" ry="3.3" fill="#3200fa" transform="rotate(60 68.6 61.9)"/>
<ellipse cx="27.5" cy="109.8" rx="3.2" ry="2.9" fill="#4410e4"/>
<ellipse cx="109.9" cy="99.1" rx="3.3" ry="3.5" fill="#5a0ce6" transform="rotate(60 109.9 99.1)"/>
<ellipse cx="80.7" cy="131.0" rx="3.2" ry="3.6" fill="#3200fa" transform="rotate(30 80.7 131.0)"/>
<ellipse cx="168.1" cy="17.8" rx="3.2" ry="3.5" fill="#5a0ce6" transform="rotate(60 168.1 17.8)"/>
<ellipse cx="44.4" cy="141.3" rx="3.0" ry="3.2" fill="#5a0ce6" transform="rotate(-30 44.4 141.3)"/>
<ellipse cx="170.5" cy="54.1" rx="2.9" ry="3.0" fill="#4410e4"/>
<ellipse cx="122.1" cy="129.5" rx="3.2" ry="2.9" fill="#5a0ce6"/>
<ellipse cx="103.1" cy="58.6" rx="2.9" ry="2.9" fill="#3200fa" transform="rotate(-30 103.1 58.6)"/>
<ellipse cx="15.0" cy="94.9" rx="3.5" ry="3.9" fill="#5a0ce6" transform="rotate(30 15.0 94.9)"/>
<ellipse cx="93.5" cy="163.6" rx="3.2" ry="2.7" fill="#5a0ce6" transform="rotate(-30 93.5 163.6)"/>
<ellipse cx="76.3" cy="135.8" rx="3.2" ry="3.0" fill="#3200fa" transform="rotate(60 76.3 135.8)"/>
<ellipse cx="70.1" cy="73.7" rx="3.5" ry="3.6" fill="#3200fa" transform="rotate(-30 70.1 73.7)"/>
<ellipse cx="174.7" cy="77.0" rx="3.2" ry="2.9" fill="#3200fa" transform="rotate(-30 174.7 77.0)"/>
<ellipse cx="24.5" cy="88.5" rx="3.0" ry="2.9" fill="#3200fa" transform="rotate(-30 24.5 88.5)"/>
<ellipse cx="123.0" cy="56.6" rx="3.2" ry="3.2" fill="#4410e4" transform="rotate(30 123.0 56.6)"/>
<ellipse cx="152.0" cy="103.0" rx="3.2" ry="3.0" fill="#5a0ce6" transform="rotate(-30 152.0 103.0)"/>
<ellipse cx="17.7" cy="45.2" rx="3.0" ry="3.0" fill="#3200fa" transform="rotate(-30 17.7 45.2)"/>
<ellipse cx="107.8" cy="67.7" rx="3.3" ry="3.3" fill="#4410e4"/>
<ellipse cx="178.5" cy="158.5" rx="3.3" ry="2.9" fill="#3200fa" transform="rotate(-30 178.5 158.5)"/>
<ellipse cx="143.3" cy="85.8" rx="3.2" ry="2.7" fill="#4410e4" transform="rotate(30 143.3 85.8)"/>
<ellipse cx="82.2" cy="142.8" rx="2.9" ry="2.7" fill="#4410e4" transform="rotate(-30 82.2 142.8)"/>
<ellipse cx="79.8" cy="69.5" rx="3.2" ry="3.3" fill="#5a0ce6" transform="rotate(60 79.8 69.5)"/>
<ellipse cx="128.0" cy="37.6" rx="3.3" ry="3.6" fill="#3200fa" transform="rotate(30 128.0 37.6)"/>
<ellipse cx="87.4" cy="50.0" rx="3.5" ry="3.0" fill="#5a0ce6" transform="rotate(30 87.4 50.0)"/>
<ellipse cx="167.7" cy="90.9" rx="3.5" ry="3.0" fill="#4410e4" transform="rotate(-30 167.7 90.9)"/>
<ellipse cx="71.6" cy="143.7" rx="3.0" ry="3.3" fill="#3200fa"/>
<ellipse cx="61.1" cy="137.8" rx="3.2" ry="3.3" fill="#4410e4" transform="rotate(-30 61.1 137.8)"/>
<ellipse cx="168.2" cy="63.7" rx="3.0" ry="3.5" fill="#3200fa" transform="rotate(60 168.2 63.7)"/>
<ellipse cx="135.3" cy="111.5" rx="3.3" ry="3.8" fill="#3200fa"/>
<ellipse cx="2.4" cy="173.8" rx="3.0" ry="3.2" fill="#4410e4" transform="rotate(30 2.4 173.8)"/>
<ellipse cx="184.8" cy="50.0" rx="2.9" ry="2.6" fill="#5a0ce6" transform="rotate(-30 184.8 50.0)"/>
<ellipse cx="86.6" cy="166.4" rx="3.0" ry="3.0" fill="#3200fa" transform="rotate(60 86.6 166.4)"/>
<ellipse cx="112.4" cy="121.9" rx="3.0" ry="2.6" fill="#3200fa" transform="rotate(-30 112.4 121.9)"/>
<ellipse cx="58.9" cy="38.5" rx="3.3" ry="3.5" fill="#3200fa" transform="rotate(-30 58.9 38.5)"/>
<ellipse cx="19.6" cy="74.2" rx="3.2" ry="3.3" fill="#3200fa" transform="rotate(30 19.6 74.2)"/>
<ellipse cx="139.6" cy="165.0" rx="3.2" ry="2.7" fill="#3200fa" transform="rotate(30 139.6 165.0)"/>
<ellipse cx="37.3" cy="88.7" rx="3.2" ry="2.7" fill="#4410e4" transform="rotate(-30 37.3 88.7)"/>
<ellipse cx="84.0" cy="115.7" rx="3.3" ry="3.8" fill="#5a0ce6" transform="rotate(-30 84.0 115.7)"/>
<ellipse cx="174.1" cy="13.0" rx="3.0" ry="3.3" fill="#4410e4" transform="rotate(60 174.1 13.0)"/>
<ellipse cx="152.8" cy="27.5" rx="3.2" ry="3.6" fill="#4410e4" transform="rotate(60 152.8 27.5)"/>
<ellipse cx="52.6" cy="61.6" rx="3.2" ry="3.3" fill="#3200fa"/>
<ellipse cx="143.9" cy="9.8" rx="3.3" ry="3.9" fill="#5a0ce6"/>
<ellipse cx="47.8" cy="100.3" rx="3.3" ry="3.6" fill="#3200fa" transform="rotate(60 47.8 100.3)"/>
<ellipse cx="28.0" cy="62.2" rx="2.9" ry="2.7" fill="#3200fa" transform="rotate(60 28.0 62.2)"/>
<ellipse cx="115.6" cy="81.1" rx="3.2" ry="3.6" fill="#4410e4" transform="rotate(-30 115.6 81.1)"/>
<ellipse cx="146.4" cy="75.4" rx="3.0" ry="2.6" fill="#3200fa" transform="rotate(-30 146.4 75.4)"/>
<ellipse cx="181.8" cy="55.7" rx="3.5" ry="3.8" fill="#3200fa"/>
<ellipse cx="100.6" cy="88.5" rx="3.2" ry="2.7" fill="#3200fa" transform="rotate(-30 100.6 88.5)"/>
<ellipse cx="165.6" cy="147.5" rx="3.2" ry="3.2" fill="#4410e4" transform="rotate(30 165.6 147.5)"/>
<ellipse cx="116.7" cy="30.8" rx="3.5" ry="3.6" fill="#3200fa"/>
<ellipse cx="144.0" cy="112.6" rx="3.2" ry="3.0" fill="#3200fa" transform="rotate(-30 144.0 112.6)"/>
<ellipse cx="6.6" cy="97.1" rx="2.9" ry="2.9" fill="#3200fa" transform="rotate(30 6.6 97.1)"/>
<ellipse cx="107.8" cy="54.1" rx="3.2" ry="3.2" fill="#3200fa"/>
<ellipse cx="44.3" cy="86.4" rx="3.2" ry="3.5" fill="#3200fa" transform="rotate(60 44.3 86.4)"/>
<ellipse cx="63.0" cy="120.3" rx="3.3" ry="3.3" fill="#3200fa" transform="rotate(60 63.0 120.3)"/>
<ellipse cx="186.2" cy="31.3" rx="3.3" ry="3.0" fill="#4410e4" transform="rotate(30 186.2 31.3)"/>
<ellipse cx="7.1" cy="74.9" rx="3.3" ry="3.5" fill="#3200fa" transform="rotate(-30 7.1 74.9)"/>
<ellipse cx="4.8" cy="48.5" rx="3.3" ry="2.9" fill="#4410e4" transform="rotate(-30 4.8 48.5)"/>
<ellipse cx="109.6" cy="43.2" rx="3.0" ry="2.7" fill="#5a0ce6" transform="rotate(60 109.6 43.2)"/>
<ellipse cx="167.4" cy="45.8" rx="3.2" ry="3.3" fill="#4410e4" transform="rotate(60 167.4 45.8)"/>
<ellipse cx="159.0" cy="90.5" rx="2.9" ry="3.2" fill="#4410e4" transform="rotate(60 159.0 90.5)"/>
<ellipse cx="101.6" cy="134.0" rx="3.2" ry="3.3" fill="#3200fa" transform="rotate(60 101.6 134.0)"/>
<ellipse cx="156.1" cy="66.6" rx="3.3" ry="3.2" fill="#5a0ce6" transform="rotate(60 156.1 66.6)"/>
<ellipse cx="149.6" cy="67.2" rx="3.3" ry="3.0" fill="#5a0ce6" transform="rotate(-30 149.6 67.2)"/>
<ellipse cx="114.4" cy="128.6" rx="3.5" ry="3.0" fill="#3200fa" transform="rotate(30 114.4 128.6)"/>
<ellipse cx="92.9" cy="40.3" rx="2.9" ry="3.2" fill="#3200fa"/>
<ellipse cx="11.6" cy="87.6" rx="3.0" ry="3.0" fill="#5a0ce6" transform="rotate(30 11.6 87.6)"/>
<ellipse cx="40.0" cy="81.6" rx="3.2" ry="3.2" fill="#3200fa" transform="rotate(60 40.0 81.6)"/>
<ellipse cx="123.6" cy="29.6" rx="3.3" ry="3.3" fill="#3200fa" transform="rotate(-30 123.6 29.6)"/>
<ellipse cx="128.2" cy="23.4" rx="3.5" ry="3.0" fill="#3200fa" transform="rotate(30 128.2 23.4)"/>
<ellipse cx="139.5" cy="172.3" rx="3.0" ry="3.3" fill="#4410e4"/>
<ellipse cx="141.5" cy="62.8" rx="3.0" ry="3.2" fill="#3200fa"/>
<ellipse cx="49.7" cy="79.3" rx="3.2" ry="3.5" fill="#3200fa" transform="rotate(60 49.7 79.3)"/>
<ellipse cx="156.0" cy="151.5" rx="3.3" ry="3.5" fill="#3200fa" transform="rotate(-30 156.0 151.5)"/>
<ellipse cx="144.6" cy="43.9" rx="3.2" ry="3.6" fill="#3200fa" transform="rotate(-30 144.6 43.9)"/>
<ellipse cx="16.0" cy="59.4" rx="2.9" ry="2.7" fill="#3200fa"/>
<ellipse cx="125.6" cy="73.9" rx="3.2" ry="2.9" fill="#4410e4" transform="rotate(30 125.6 73.9)"/>
<ellipse cx="83.0" cy="122.1" rx="3.2" ry="3.0" fill="#5a0ce6"/>
<ellipse cx="83.0" cy="150.8" rx="3.5" ry="3.8" fill="#5a0ce6" transform="rotate(30 83.0 150.8)"/>
<ellipse cx="150.7" cy="49.2" rx="2.9" ry="2.9" fill="#5a0ce6"/>
<ellipse cx="33.5" cy="112.4" rx="3.3" ry="3.8" fill="#5a0ce6" transform="rotate(60 33.5 112.4)"/>
<ellipse cx="97.6" cy="157.1" rx="3.5" ry="3.5" fill="#3200fa" transform="rotate(60 97.6 157.1)"/>
<ellipse cx="184.4" cy="7.5" rx="3.3" ry="3.3" fill="#3200fa" transform="rotate(60 184.4 7.5)"/>
<ellipse cx="162.0" cy="60.4" rx="3.3" ry="3.2" fill="#3200fa" transform="rotate(60 162.0 60.4)"/>
<ellipse cx="153.1" cy="6.3" rx="2.9" ry="3.2" fill="#4410e4" transform="rotate(60 153.1 6.3)"/>
<ellipse cx="157.2" cy="98.5" rx="3.2" ry="3.5" fill="#3200fa" transform="rotate(60 157.2 98.5)"/>
<ellipse cx="75.4" cy="156.5" rx="3.3" ry="3.6" fill="#3200fa" transform="rotate(-30 75.4 156.5)"/>
<ellipse cx="68.6" cy="99.4" rx="2.9" ry="2.9" fill="#3200fa" transform="rotate(30 68.6 99.4)"/>
<ellipse cx="145.5" cy="174.8" rx="3.3" ry="3.6" fill="#3200fa"/>
<ellipse cx="57.3" cy="89.6" rx="3.3" ry="2.9" fill="#3200fa" transform="rotate(30 57.3 89.6)"/>
<ellipse cx="36.0" cy="102.1" rx="3.5" ry="3.3" fill="#3200fa" transform="rotate(30 36.0 102.1)"/>
<ellipse cx="146.7" cy="162.9" rx="3.2" ry="3.2" fill="#5a0ce6" transform="rotate(-30 146.7 162.9)"/>
<ellipse cx="45.9" cy="61.3" rx="3.5" ry="3.9" fill="#3200fa"/>
<ellipse cx="73.3" cy="67.2" rx="3.2" ry="3.0" fill="#3200fa"/>
<ellipse cx="98.7" cy="19.2" rx="3.0" ry="3.0" fill="#4410e4" transform="rotate(30 98.7 19.2)"/>
<ellipse cx="77.4" cy="147.2" rx="3.0" ry="3.2" fill="#3200fa" transform="rotate(60 77.4 147.2)"/>
<ellipse cx="128.3" cy="108.3" rx="3.0" ry="2.7" fill="#3200fa" transform="rotate(30 128.3 108.3)"/>
<ellipse cx="10.9" cy="45.0" rx="3.0" ry="2.7" fill="#4410e4" transform="rotate(60 10.9 45.0)"/>
<ellipse cx="104.0" cy="72.7" rx="3.2" ry="3.0" fill="#5a0ce6"/>
<ellipse cx="127.7" cy="7.7" rx="3.0" ry="3.3" fill="#3200fa"/>
<ellipse cx="44.7" cy="49.1" rx="3.5" ry="3.2" fill="#3200fa" transform="rotate(-30 44.7 49.1)"/>
<ellipse cx="83.7" cy="106.5" rx="3.0" ry="3.2" fill="#3200fa"/>
<ellipse cx="172.4" cy="186.6" rx="3.2" ry="2.7" fill="#4410e4" transform="rotate(-30 172.4 186.6)"/>
<ellipse cx="1.5" cy="150.2" rx="3.3" ry="3.3" fill="#5a0ce6"/>
<ellipse cx="132.8" cy="42.9" rx="3.2" ry="3.2" fill="#3200fa"/>
<ellipse cx="128.6" cy="101.8" rx="3.5" ry="3.2" fill="#5a0ce6"/>
<ellipse cx="109.1" cy="21.9" rx="2.9" ry="2.6" fill="#3200fa" transform="rotate(30 109.1 21.9)"/>
<ellipse cx="175.5" cy="59.2" rx="3.0" ry="3.0" fill="#4410e4"/>
<ellipse cx="47.8" cy="107.0" rx="3.3" ry="3.8" fill="#3200fa" transform="rotate(30 47.8 107.0)"/>
<ellipse cx="162.6" cy="13.3" rx="3.2" ry="3.5" fill="#3200fa" transform="rotate(60 162.6 13.3)"/>
<ellipse cx="99.4" cy="51.7" rx="3.0" ry="3.0" fill="#3200fa" transform="rotate(60 99.4 51.7)"/>
<ellipse cx="49.0" cy="113.3" rx="3.3" ry="3.8" fill="#4410e4"/>
<ellipse cx="1.2" cy="42.3" rx="3.2" ry="3.3" fill="#3200fa" transform="rotate(60 1.2 42.3)"/>
<ellipse cx="119.1" cy="45.2" rx="3.2" ry="3.6" fill="#5a0ce6" transform="rotate(30 119.1 45.2)"/>
<ellipse cx="125.3" cy="85.4" rx="3.2" ry="3.2" fill="#5a0ce6" transform="rotate(60 125.3 85.4)"/>
<ellipse cx="44.4" cy="117.7" rx="3.3" ry="3.2" fill="#3200fa" transform="rotate(-30 44.4 117.7)"/>
<ellipse cx="157.5" cy="160.2" rx="3.0" ry="3.2" fill="#4410e4" transform="rotate(30 157.5 160.2)"/>
<ellipse cx="32.3" cy="68.7" rx="3.3" ry="2.9" fill="#5a0ce6" transform="rotate(30 32.3 68.7)"/>
<ellipse cx="55.8" cy="76.6" rx="3.3" ry="3.6" fill="#3200fa" transform="rotate(30 55.8 76.6)"/>
<ellipse cx="173.0" cy="36.4" rx="3.5" ry="3.6" fill="#3200fa"/>
<ellipse cx="111.2" cy="86.7" rx="3.2" ry="3.5" fill="#5a0ce6" transform="rotate(-30 111.2 86.7)"/>
<ellipse cx="134.0" cy="96.7" rx="3.2" ry="2.9" fill="#3200fa"/>
<ellipse cx="18.1" cy="87.0" rx="3.3" ry="3.2" fill="#5a0ce6"/>
<ellipse cx="123.0" cy="98.2" rx="2.9" ry="2.9" fill="#3200fa" transform="rotate(-30 123.0 98.2)"/>
<ellipse cx="88.4" cy="143.4" rx="3.3" ry="3.8" fill="#3200fa"/>
<ellipse cx="90.4" cy="61.9" rx="3.0" ry="2.7" fill="#3200fa"/>
<ellipse cx="10.1" cy="68.7" rx="3.2" ry="3.3" fill="#3200fa" transform="rotate(30 10.1 68.7)"/>
<ellipse cx="77.4" cy="56.3" rx="3.0" ry="3.0" fill="#3200fa" transform="rotate(60 77.4 56.3)"/>
<ellipse cx="106.1" cy="122.8" rx="3.3" ry="3.5" fill="#5a0ce6" transform="rotate(30 106.1 122.8)"/>
<ellipse cx="129.5" cy="52.3" rx="3.0" ry="3.0" fill="#3200fa" transform="rotate(60 129.5 52.3)"/>
<ellipse cx="157.2" cy="75.1" rx="3.2" ry="3.0" fill="#4410e4" transform="rotate(30 157.2 75.1)"/>
<ellipse cx="131.0" cy="14.2" rx="3.3" ry="3.2" fill="#3200fa" transform="rotate(-30 131.0 14.2)"/>
<ellipse cx="162.5" cy="185.9" rx="3.3" ry="3.8" fill="#3200fa" transform="rotate(60 162.5 185.9)"/>
<ellipse cx="66.9" cy="31.1" rx="3.3" ry="3.8" fill="#3200fa"/>
<ellipse cx="40.7" cy="109.5" rx="3.2" ry="2.6" fill="#3200fa" transform="rotate(-30 40.7 109.5)"/>
<ellipse cx="88.0" cy="89.7" rx="3.5" ry="3.8" fill="#3200fa" transform="rotate(30 88.0 89.7)"/>
<ellipse cx="140.8" cy="15.5" rx="2.9" ry="2.6" fill="#3200fa" transform="rotate(30 140.8 15.5)"/>
<ellipse cx="164.4" cy="34.1" rx="3.5" ry="3.3" fill="#4410e4" transform="rotate(60 164.4 34.1)"/>
<ellipse cx="61.5" cy="150.0" rx="2.9" ry="2.9" fill="#3200fa" transform="rotate(30 61.5 150.0)"/>
<ellipse cx="69.5" cy="53.2" rx="3.2" ry="3.2" fill="#3200fa" transform="rotate(-30 69.5 53.2)"/>
<ellipse cx="95.7" cy="117.4" rx="3.3" ry="3.8" fill="#5a0ce6"/>
<ellipse cx="89.6" cy="95.8" rx="3.5" ry="3.5" fill="#4410e4" transform="rotate(30 89.6 95.8)"/>
<ellipse cx="33.9" cy="77.5" rx="3.3" ry="3.3" fill="#4410e4" transform="rotate(30 33.9 77.5)"/>
<ellipse cx="138.9" cy="116.8" rx="3.2" ry="3.3" fill="#3200fa" transform="rotate(-30 138.9 116.8)"/>
<ellipse cx="89.6" cy="133.1" rx="3.3" ry="3.2" fill="#5a0ce6" transform="rotate(60 89.6 133.1)"/>
<ellipse cx="10.3" cy="54.2" rx="3.3" ry="3.0" fill="#3200fa"/>
<ellipse cx="72.8" cy="42.9" rx="3.0" ry="3.3" fill="#5a0ce6" transform="rotate(-30 72.8 42.9)"/>
<ellipse cx="179.4" cy="20.7" rx="3.3" ry="3.2" fill="#4410e4"/>
<ellipse cx="38.4" cy="56.8" rx="3.0" ry="3.3" fill="#4410e4" transform="rotate(-30 38.4 56.8)"/>
<ellipse cx="90.1" cy="82.5" rx="3.5" ry="3.5" fill="#3200fa" transform="rotate(-30 90.1 82.5)"/>
<ellipse cx="3.0" cy="166.4" rx="3.0" ry="3.0" fill="#5a0ce6"/>
<ellipse cx="25.7" cy="70.7" rx="3.5" ry="3.5" fill="#5a0ce6" transform="rotate(-30 25.7 70.7)"/>
<ellipse cx="156.3" cy="56.3" rx="2.9" ry="2.7" fill="#3200fa" transform="rotate(30 156.3 56.3)"/>
<ellipse cx="159.4" cy="166.8" rx="2.9" ry="2.9" fill="#5a0ce6"/>
<ellipse cx="128.5" cy="68.1" rx="3.5" ry="3.6" fill="#4410e4" transform="rotate(60 128.5 68.1)"/>
<ellipse cx="96.6" cy="80.2" rx="3.3" ry="2.9" fill="#3200fa"/>
<ellipse cx="30.5" cy="94.1" rx="3.2" ry="3.3" fill="#5a0ce6" transform="rotate(-30 30.5 94.1)"/>
<ellipse cx="156.3" cy="84.9" rx="3.2" ry="3.6" fill="#4410e4" transform="rotate(30 156.3 84.9)"/>
<ellipse cx="121.7" cy="79.5" rx="3.0" ry="3.0" fill="#5a0ce6" transform="rotate(30 121.7 79.5)"/>
<ellipse cx="185.0" cy="184.2" rx="3.2" ry="2.9" fill="#3200fa" transform="rotate(60 185.0 184.2)"/>
<ellipse cx="108.7" cy="107.1" rx="3.0" ry="2.7" fill="#4410e4" transform="rotate(30 108.7 107.1)"/>
<ellipse cx="101.6" cy="41.7" rx="3.2" ry="3.5" fill="#3200fa" transform="rotate(60 101.6 41.7)"/>
<ellipse cx="1.5" cy="186.3" rx="3.0" ry="3.0" fill="#3200fa" transform="rotate(-30 1.5 186.3)"/>
<ellipse cx="151.9" cy="94.0" rx="3.3" ry="3.6" fill="#3200fa" transform="rotate(60 151.9 94.0)"/>
<ellipse cx="67.3" cy="39.7" rx="3.0" ry="3.3" fill="#5a0ce6" transform="rotate(30 67.3 39.7)"/>
<ellipse cx="18.3" cy="52.0" rx="3.3" ry="3.2" fill="#5a0ce6" transform="rotate(30 18.3 52.0)"/>
<ellipse cx="82.2" cy="158.3" rx="3.0" ry="2.7" fill="#4410e4" transform="rotate(60 82.2 158.3)"/>
<ellipse cx="61.4" cy="111.8" rx="3.0" ry="2.7" fill="#3200fa" transform="rotate(60 61.4 111.8)"/>
<ellipse cx="124.4" cy="63.1" rx="3.2" ry="2.9" fill="#3200fa" transform="rotate(60 124.4 63.1)"/>
<ellipse cx="82.2" cy="83.4" rx="3.0" ry="3.3" fill="#5a0ce6" transform="rotate(60 82.2 83.4)"/>
<ellipse cx="97.5" cy="109.1" rx="3.2" ry="3.6" fill="#5a0ce6" transform="rotate(60 97.5 109.1)"/>
<ellipse cx="53.3" cy="96.1" rx="3.5" ry="3.0" fill="#3200fa"/>
<ellipse cx="155.5" cy="35.6" rx="3.0" ry="2.7" fill="#3200fa" transform="rotate(-30 155.5 35.6)"/>
<ellipse cx="61.2" cy="45.3" rx="3.0" ry="3.3" fill="#3200fa" transform="rotate(-30 61.2 45.3)"/>
<ellipse cx="75.0" cy="89.7" rx="3.0" ry="3.5" fill="#4410e4" transform="rotate(60 75.0 89.7)"/>
<ellipse cx="12.5" cy="101.7" rx="3.3" ry="3.8" fill="#3200fa"/>
<ellipse cx="107.9" cy="27.9" rx="3.5" ry="3.3" fill="#4410e4" transform="rotate(-30 107.9 27.9)"/>
<ellipse cx="139.0" cy="92.5" rx="3.3" ry="2.9" fill="#4410e4" transform="rotate(30 139.0 92.5)"/>
<ellipse cx="147.2" cy="22.5" rx="3.2" ry="3.5" fill="#3200fa" transform="rotate(-30 147.2 22.5)"/>
<ellipse cx="101.9" cy="141.4" rx="3.3" ry="3.2" fill="#5a0ce6" transform="rotate(60 101.9 141.4)"/>
<ellipse cx="149.6" cy="81.0" rx="2.9" ry="3.3" fill="#4410e4"/>
<ellipse cx="96.6" cy="60.3" rx="3.5" ry="3.6" fill="#3200fa" transform="rotate(-30 96.6 60.3)"/>
<ellipse cx="3.6" cy="90.9" rx="3.2" ry="3.3" fill="#5a0ce6" transform="rotate(60 3.6 90.9)"/>
<ellipse cx="178.2" cy="7.7" rx="3.5" ry="3.2" fill="#3200fa"/>
<ellipse cx="153.4" cy="165.1" rx="3.0" ry="3.2" fill="#5a0ce6"/>
<ellipse cx="149.6" cy="149.1" rx="3.3" ry="3.2" fill="#5a0ce6" transform="rotate(60 149.6 149.1)"/>
<ellipse cx="69.5" cy="135.5" rx="3.0" ry="3.3" fill="#3200fa" transform="rotate(-30 69.5 135.5)"/>
<ellipse cx="30.1" cy="47.1" rx="2.9" ry="3.2" fill="#3200fa" transform="rotate(30 30.1 47.1)"/>
<ellipse cx="148.9" cy="60.6" rx="2.9" ry="3.0" fill="#3200fa" transform="rotate(60 148.9 60.6)"/>
<ellipse cx="181.5" cy="177.4" rx="3.0" ry="3.3" fill="#3200fa"/>
<ellipse cx="183.8" cy="162.9" rx="3.0" ry="3.2" fill="#3200fa" transform="rotate(-30 183.8 162.9)"/>
<ellipse cx="153.1" cy="43.2" rx="3.0" ry="3.5" fill="#4410e4"/>
<ellipse cx="65.0" cy="126.8" rx="3.2" ry="3.0" fill="#4410e4" transform="rotate(-30 65.0 126.8)"/>
<ellipse cx="52.1" cy="54.5" rx="3.2" ry="3.5" fill="#5a0ce6" transform="rotate(-30 52.1 54.5)"/>
<ellipse cx="68.5" cy="82.2" rx="3.3" ry="3.3" fill="#3200fa" transform="rotate(30 68.5 82.2)"/>
<ellipse cx="80.9" cy="32.9" rx="2.9" ry="3.0" fill="#3200fa" transform="rotate(-30 80.9 32.9)"/>
<ellipse cx="12.1" cy="167.0" rx="3.3" ry="3.6" fill="#3200fa"/>
<ellipse cx="37.3" cy="95.0" rx="3.5" ry="3.5" fill="#3200fa" transform="rotate(60 37.3 95.0)"/>
<ellipse cx="180.9" cy="62.7" rx="3.0" ry="3.3" fill="#4410e4"/>
<ellipse cx="40.5" cy="133.0" rx="2.9" ry="2.6" fill="#4410e4" transform="rotate(30 40.5 133.0)"/>
<ellipse cx="180.9" cy="13.6" rx="3.3" ry="3.0" fill="#3200fa"/>
<ellipse cx="18.6" cy="3.7" rx="2.7" ry="2.7" fill="#3200fa"/>
<ellipse cx="34.0" cy="12.5" rx="4.2" ry="3.8" fill="#3200fa"/>
<ellipse cx="35.5" cy="17.3" rx="2.3" ry="2.3" fill="#3200fa"/>
<ellipse cx="115.6" cy="8.7" rx="3.5" ry="3.0" fill="#ff12cc" transform="rotate(30 115.6 8.7)"/>
<ellipse cx="112.6" cy="14.8" rx="3.5" ry="3.0" fill="#ff12cc" transform="rotate(30 112.6 14.8)"/>
<ellipse cx="108.1" cy="11.8" rx="2.1" ry="1.7" fill="#ff12cc" transform="rotate(30 108.1 11.8)"/>
<ellipse cx="165.5" cy="7.2" rx="3.5" ry="3.0" fill="#ff12cc" transform="rotate(30 165.5 7.2)"/>
<ellipse cx="154.9" cy="20.1" rx="3.5" ry="3.0" fill="#ff12cc" transform="rotate(30 154.9 20.1)"/>
<ellipse cx="185.6" cy="18.6" rx="3.5" ry="3.0" fill="#ff12cc" transform="rotate(30 185.6 18.6)"/>
<ellipse cx="89.9" cy="25.4" rx="3.5" ry="3.0" fill="#ff12cc" transform="rotate(30 89.9 25.4)"/>
<ellipse cx="101.6" cy="26.1" rx="3.5" ry="3.0" fill="#ff12cc" transform="rotate(30 101.6 26.1)"/>
<ellipse cx="117.9" cy="24.6" rx="3.5" ry="3.0" fill="#ff12cc" transform="rotate(30 117.9 24.6)"/>
<ellipse cx="162.5" cy="26.1" rx="3.5" ry="3.0" fill="#ff12cc" transform="rotate(30 162.5 26.1)"/>
<ellipse cx="172.3" cy="29.9" rx="3.5" ry="3.0" fill="#ff12cc" transform="rotate(30 172.3 29.9)"/>
<ellipse cx="140.5" cy="24.6" rx="2.3" ry="1.8" fill="#ff12cc" transform="rotate(30 140.5 24.6)"/>
<ellipse cx="74.1" cy="35.9" rx="3.5" ry="3.0" fill="#ff12cc" transform="rotate(30 74.1 35.9)"/>
<ellipse cx="86.4" cy="37.4" rx="3.5" ry="3.0" fill="#ff12cc" transform="rotate(30 86.4 37.4)"/>
<ellipse cx="108.5" cy="34.4" rx="3.5" ry="3.0" fill="#ff12cc" transform="rotate(30 108.5 34.4)"/>
<ellipse cx="116.4" cy="39.0" rx="3.5" ry="3.0" fill="#ff12cc" transform="rotate(30 116.4 39.0)"/>
<ellipse cx="149.6" cy="37.9" rx="3.5" ry="3.0" fill="#ff12cc" transform="rotate(30 149.6 37.9)"/>
<ellipse cx="163.2" cy="40.5" rx="3.5" ry="3.0" fill="#ff12cc" transform="rotate(30 163.2 40.5)"/>
<ellipse cx="52.6" cy="42.4" rx="3.5" ry="3.0" fill="#ff12cc" transform="rotate(30 52.6 42.4)"/>
<ellipse cx="96.7" cy="45.8" rx="3.5" ry="3.0" fill="#ff12cc" transform="rotate(30 96.7 45.8)"/>
<ellipse cx="159.4" cy="48.0" rx="3.5" ry="3.0" fill="#ff12cc" transform="rotate(30 159.4 48.0)"/>
<ellipse cx="36.3" cy="49.5" rx="3.5" ry="3.0" fill="#ff12cc" transform="rotate(30 36.3 49.5)"/>
<ellipse cx="57.7" cy="51.0" rx="3.5" ry="3.0" fill="#ff12cc" transform="rotate(30 57.7 51.0)"/>
<ellipse cx="78.6" cy="50.3" rx="3.5" ry="3.0" fill="#ff12cc" transform="rotate(30 78.6 50.3)"/>
<ellipse cx="114.9" cy="53.0" rx="3.5" ry="3.0" fill="#ff12cc" transform="rotate(30 114.9 53.0)"/>
<ellipse cx="145.1" cy="54.8" rx="3.5" ry="3.0" fill="#ff12cc" transform="rotate(30 145.1 54.8)"/>
<ellipse cx="57.7" cy="57.9" rx="3.5" ry="3.0" fill="#ff12cc" transform="rotate(30 57.7 57.9)"/>
<ellipse cx="132.2" cy="59.4" rx="3.5" ry="3.0" fill="#ff12cc" transform="rotate(30 132.2 59.4)"/>
<ellipse cx="4.5" cy="60.1" rx="3.5" ry="3.0" fill="#ff12cc" transform="rotate(30 4.5 60.1)"/>
<ellipse cx="83.9" cy="62.4" rx="3.5" ry="3.0" fill="#ff12cc" transform="rotate(30 83.9 62.4)"/>
<ellipse cx="113.3" cy="62.4" rx="3.5" ry="3.0" fill="#ff12cc" transform="rotate(30 113.3 62.4)"/>
<ellipse cx="64.2" cy="66.9" rx="3.5" ry="3.0" fill="#ff12cc" transform="rotate(30 64.2 66.9)"/>
<ellipse cx="51.1" cy="71.8" rx="3.5" ry="3.0" fill="#ff12cc" transform="rotate(30 51.1 71.8)"/>
<ellipse cx="119.4" cy="69.9" rx="3.5" ry="3.0" fill="#ff12cc" transform="rotate(30 119.4 69.9)"/>
<ellipse cx="112.6" cy="72.2" rx="3.5" ry="3.0" fill="#ff12cc" transform="rotate(30 112.6 72.2)"/>
<ellipse cx="62.0" cy="78.3" rx="3.5" ry="3.0" fill="#ff12cc" transform="rotate(30 62.0 78.3)"/>
<ellipse cx="79.3" cy="76.0" rx="3.5" ry="3.0" fill="#ff12cc" transform="rotate(30 79.3 76.0)"/>
<ellipse cx="74.8" cy="82.0" rx="3.5" ry="3.0" fill="#ff12cc" transform="rotate(30 74.8 82.0)"/>
<ellipse cx="106.5" cy="80.5" rx="3.5" ry="3.0" fill="#ff12cc" transform="rotate(30 106.5 80.5)"/>
<ellipse cx="52.1" cy="85.5" rx="3.5" ry="3.0" fill="#ff12cc" transform="rotate(30 52.1 85.5)"/>
<ellipse cx="136.0" cy="83.5" rx="3.5" ry="3.0" fill="#ff12cc" transform="rotate(30 136.0 83.5)"/>
<ellipse cx="150.4" cy="87.3" rx="3.5" ry="3.0" fill="#ff12cc" transform="rotate(30 150.4 87.3)"/>
<ellipse cx="67.3" cy="88.8" rx="3.5" ry="3.0" fill="#ff12cc" transform="rotate(30 67.3 88.8)"/>
<ellipse cx="95.2" cy="92.3" rx="3.5" ry="3.0" fill="#ff12cc" transform="rotate(30 95.2 92.3)"/>
<ellipse cx="130.7" cy="91.1" rx="3.5" ry="3.0" fill="#ff12cc" transform="rotate(30 130.7 91.1)"/>
<ellipse cx="145.1" cy="94.9" rx="3.5" ry="3.0" fill="#ff12cc" transform="rotate(30 145.1 94.9)"/>
<ellipse cx="45.8" cy="93.7" rx="3.5" ry="3.0" fill="#ff12cc" transform="rotate(30 45.8 93.7)"/>
<ellipse cx="80.1" cy="99.4" rx="3.5" ry="3.0" fill="#ff12cc" transform="rotate(30 80.1 99.4)"/>
<ellipse cx="136.0" cy="103.2" rx="3.5" ry="3.0" fill="#ff12cc" transform="rotate(30 136.0 103.2)"/>
<ellipse cx="145.8" cy="105.5" rx="3.5" ry="3.0" fill="#ff12cc" transform="rotate(30 145.8 105.5)"/>
<ellipse cx="57.4" cy="106.2" rx="3.5" ry="3.0" fill="#ff12cc" transform="rotate(30 57.4 106.2)"/>
<ellipse cx="72.5" cy="107.7" rx="3.5" ry="3.0" fill="#ff12cc" transform="rotate(30 72.5 107.7)"/>
<ellipse cx="121.7" cy="106.5" rx="3.5" ry="3.0" fill="#ff12cc" transform="rotate(30 121.7 106.5)"/>
<ellipse cx="15.1" cy="110.0" rx="3.5" ry="3.0" fill="#ff12cc" transform="rotate(30 15.1 110.0)"/>
<ellipse cx="103.5" cy="113.0" rx="3.5" ry="3.0" fill="#ff12cc" transform="rotate(30 103.5 113.0)"/>
<ellipse cx="77.4" cy="114.5" rx="3.5" ry="3.0" fill="#ff12cc" transform="rotate(30 77.4 114.5)"/>
<ellipse cx="125.4" cy="114.5" rx="3.5" ry="3.0" fill="#ff12cc" transform="rotate(30 125.4 114.5)"/>
<ellipse cx="128.5" cy="120.6" rx="3.5" ry="3.0" fill="#ff12cc" transform="rotate(30 128.5 120.6)"/>
<ellipse cx="122.1" cy="118.3" rx="3.5" ry="3.0" fill="#ff12cc" transform="rotate(30 122.1 118.3)"/>
<ellipse cx="37.0" cy="117.5" rx="3.5" ry="3.0" fill="#ff12cc" transform="rotate(30 37.0 117.5)"/>
<ellipse cx="54.4" cy="116.8" rx="3.5" ry="3.0" fill="#ff12cc" transform="rotate(30 54.4 116.8)"/>
<ellipse cx="74.8" cy="122.8" rx="3.5" ry="3.0" fill="#ff12cc" transform="rotate(30 74.8 122.8)"/>
<ellipse cx="43.8" cy="125.6" rx="3.5" ry="3.0" fill="#ff12cc" transform="rotate(30 43.8 125.6)"/>
<ellipse cx="53.6" cy="125.6" rx="3.5" ry="3.0" fill="#ff12cc" transform="rotate(30 53.6 125.6)"/>
<ellipse cx="71.0" cy="129.2" rx="3.5" ry="3.0" fill="#ff12cc" transform="rotate(30 71.0 129.2)"/>
<ellipse cx="107.3" cy="131.6" rx="3.5" ry="3.0" fill="#ff12cc" transform="rotate(30 107.3 131.6)"/>
<ellipse cx="48.7" cy="131.6" rx="3.5" ry="3.0" fill="#ff12cc" transform="rotate(30 48.7 131.6)"/>
<ellipse cx="52.1" cy="142.2" rx="3.5" ry="3.0" fill="#ff12cc" transform="rotate(30 52.1 142.2)"/>
<ellipse cx="94.5" cy="150.0" rx="3.5" ry="3.0" fill="#ff12cc" transform="rotate(30 94.5 150.0)"/>
<ellipse cx="70.3" cy="152.8" rx="3.5" ry="3.0" fill="#ff12cc" transform="rotate(30 70.3 152.8)"/>
<ellipse cx="88.4" cy="159.9" rx="3.5" ry="3.0" fill="#ff12cc" transform="rotate(30 88.4 159.9)"/>
<ellipse cx="143.6" cy="154.6" rx="3.5" ry="3.0" fill="#ff12cc" transform="rotate(30 143.6 154.6)"/>
<ellipse cx="151.1" cy="156.8" rx="3.5" ry="3.0" fill="#ff12cc" transform="rotate(30 151.1 156.8)"/>
<ellipse cx="166.2" cy="158.3" rx="3.5" ry="3.0" fill="#ff12cc" transform="rotate(30 166.2 158.3)"/>
<ellipse cx="179.1" cy="169.7" rx="3.5" ry="3.0" fill="#ff12cc" transform="rotate(30 179.1 169.7)"/>
<ellipse cx="185.1" cy="169.7" rx="3.5" ry="3.0" fill="#ff12cc" transform="rotate(30 185.1 169.7)"/>
<ellipse cx="166.2" cy="171.2" rx="3.5" ry="3.0" fill="#ff12cc" transform="rotate(30 166.2 171.2)"/>
<ellipse cx="153.4" cy="172.7" rx="3.5" ry="3.0" fill="#ff12cc" transform="rotate(30 153.4 172.7)"/>
<ellipse cx="172.3" cy="175.7" rx="3.5" ry="3.0" fill="#ff12cc" transform="rotate(30 172.3 175.7)"/>
<ellipse cx="162.5" cy="178.0" rx="3.5" ry="3.0" fill="#ff12cc" transform="rotate(30 162.5 178.0)"/>
<ellipse cx="143.6" cy="181.0" rx="3.5" ry="3.0" fill="#ff12cc" transform="rotate(30 143.6 181.0)"/>
<ellipse cx="175.3" cy="179.5" rx="3.5" ry="3.0" fill="#ff12cc" transform="rotate(30 175.3 179.5)"/>
<ellipse cx="155.7" cy="184.8" rx="3.5" ry="3.0" fill="#ff12cc" transform="rotate(30 155.7 184.8)"/>
<ellipse cx="179.1" cy="186.3" rx="3.5" ry="3.0" fill="#ff12cc" transform="rotate(30 179.1 186.3)"/>
<ellipse cx="145.1" cy="186.3" rx="2.1" ry="1.7" fill="#ff12cc" transform="rotate(30 145.1 186.3)"/>
<ellipse cx="15.1" cy="172.7" rx="3.5" ry="3.0" fill="#ff12cc" transform="rotate(30 15.1 172.7)"/>
<ellipse cx="173.8" cy="1.2" rx="3.5" ry="3.0" fill="#ff12cc" transform="rotate(30 173.8 1.2)"/>
<ellipse cx="142.1" cy="1.2" rx="1.8" ry="1.4" fill="#ff12cc" transform="rotate(30 142.1 1.2)"/>
<ellipse cx="24.9" cy="52.6" rx="3.0" ry="2.7" fill="#e8129a"/>
<ellipse cx="34.8" cy="62.4" rx="3.0" ry="2.7" fill="#e8129a"/>
<ellipse cx="164.0" cy="71.5" rx="3.0" ry="2.7" fill="#e8129a"/>
<ellipse cx="3.8" cy="69.2" rx="3.0" ry="2.7" fill="#e8129a"/>
<ellipse cx="93.7" cy="103.2" rx="3.0" ry="2.7" fill="#e8129a"/>
<ellipse cx="60.5" cy="100.2" rx="3.0" ry="2.7" fill="#e8129a"/>
<ellipse cx="94.5" cy="141.7" rx="3.0" ry="2.7" fill="#e8129a"/>
<ellipse cx="13.3" cy="74.5" rx="3.0" ry="2.7" fill="#e8129a"/>
<ellipse cx="10.6" cy="180.3" rx="3.0" ry="2.7" fill="#e8129a"/>
<ellipse cx="2.3" cy="159.9" rx="3.0" ry="2.7" fill="#e8129a"/>
</g></svg>
<svg x="1055.00" y="1464.60" width="187.90" height="187.20" viewBox="0 0 187.90 187.20" overflow="hidden">
<rect width="100%" height="100%" fill="#020004"/>
<g filter="url(#bl)">
<ellipse cx="16.3" cy="51.5" rx="3.0" ry="2.7" fill="#6414ff"/>
<ellipse cx="50.4" cy="79.1" rx="3.0" ry="2.9" fill="#4410e4" transform="rotate(60 50.4 79.1)"/>
<ellipse cx="20.5" cy="18.8" rx="2.6" ry="2.3" fill="#6414ff" transform="rotate(30 20.5 18.8)"/>
<ellipse cx="137.2" cy="160.7" rx="2.6" ry="2.4" fill="#5a0ce6" transform="rotate(30 137.2 160.7)"/>
<ellipse cx="100.1" cy="62.9" rx="2.6" ry="2.7" fill="#5a0ce6" transform="rotate(30 100.1 62.9)"/>
<ellipse cx="58.3" cy="70.2" rx="2.6" ry="2.7" fill="#3200fa" transform="rotate(30 58.3 70.2)"/>
<ellipse cx="55.8" cy="46.6" rx="2.4" ry="2.3" fill="#4410e4" transform="rotate(-30 55.8 46.6)"/>
<ellipse cx="144.2" cy="60.6" rx="2.4" ry="2.6" fill="#4410e4" transform="rotate(30 144.2 60.6)"/>
<ellipse cx="143.9" cy="99.6" rx="2.6" ry="2.9" fill="#5a0ce6" transform="rotate(30 143.9 99.6)"/>
<ellipse cx="157.2" cy="45.0" rx="3.0" ry="2.6" fill="#3200fa" transform="rotate(30 157.2 45.0)"/>
<ellipse cx="113.9" cy="94.5" rx="2.7" ry="2.4" fill="#4410e4"/>
<ellipse cx="109.4" cy="86.9" rx="2.6" ry="2.4" fill="#6414ff"/>
<ellipse cx="134.6" cy="90.1" rx="2.7" ry="2.6" fill="#6414ff"/>
<ellipse cx="133.2" cy="114.2" rx="2.4" ry="2.3" fill="#5a0ce6"/>
<ellipse cx="107.1" cy="95.2" rx="2.6" ry="2.6" fill="#3200fa" transform="rotate(30 107.1 95.2)"/>
<ellipse cx="170.9" cy="137.0" rx="3.0" ry="3.5" fill="#6414ff" transform="rotate(60 170.9 137.0)"/>
<ellipse cx="140.1" cy="148.0" rx="2.9" ry="2.7" fill="#4410e4" transform="rotate(60 140.1 148.0)"/>
<ellipse cx="159.4" cy="62.6" rx="2.6" ry="2.7" fill="#6414ff" transform="rotate(60 159.4 62.6)"/>
<ellipse cx="154.5" cy="113.2" rx="2.6" ry="2.6" fill="#5a0ce6"/>
<ellipse cx="50.7" cy="20.6" rx="2.9" ry="2.7" fill="#5a0ce6"/>
<ellipse cx="46.2" cy="51.2" rx="2.6" ry="2.6" fill="#5a0ce6" transform="rotate(30 46.2 51.2)"/>
<ellipse cx="36.2" cy="54.4" rx="2.4" ry="2.4" fill="#6414ff" transform="rotate(60 36.2 54.4)"/>
<ellipse cx="153.3" cy="133.8" rx="2.7" ry="2.6" fill="#4410e4" transform="rotate(60 153.3 133.8)"/>
<ellipse cx="169.4" cy="166.8" rx="2.7" ry="2.7" fill="#6414ff" transform="rotate(60 169.4 166.8)"/>
<ellipse cx="33.7" cy="38.3" rx="2.9" ry="2.6" fill="#6414ff" transform="rotate(-30 33.7 38.3)"/>
<ellipse cx="16.0" cy="32.5" rx="2.9" ry="2.6" fill="#6414ff" transform="rotate(-30 16.0 32.5)"/>
<ellipse cx="33.0" cy="32.0" rx="2.7" ry="2.9" fill="#5a0ce6" transform="rotate(60 33.0 32.0)"/>
<ellipse cx="173.5" cy="128.2" rx="3.0" ry="3.0" fill="#4410e4" transform="rotate(30 173.5 128.2)"/>
<ellipse cx="157.7" cy="94.9" rx="3.0" ry="3.0" fill="#3200fa" transform="rotate(60 157.7 94.9)"/>
<ellipse cx="73.7" cy="32.0" rx="2.7" ry="2.7" fill="#4410e4" transform="rotate(-30 73.7 32.0)"/>
<ellipse cx="95.4" cy="59.8" rx="2.7" ry="2.3" fill="#6414ff"/>
<ellipse cx="15.3" cy="40.7" rx="2.7" ry="2.4" fill="#5a0ce6"/>
<ellipse cx="139.8" cy="124.4" rx="2.9" ry="3.2" fill="#6414ff" transform="rotate(60 139.8 124.4)"/>
<ellipse cx="96.0" cy="92.2" rx="2.7" ry="2.4" fill="#6414ff" transform="rotate(60 96.0 92.2)"/>
<ellipse cx="147.8" cy="143.9" rx="2.9" ry="2.9" fill="#4410e4" transform="rotate(-30 147.8 143.9)"/>
<ellipse cx="133.5" cy="38.7" rx="2.6" ry="2.7" fill="#4410e4" transform="rotate(60 133.5 38.7)"/>
<ellipse cx="37.4" cy="28.7" rx="2.4" ry="2.6" fill="#6414ff" transform="rotate(60 37.4 28.7)"/>
<ellipse cx="28.1" cy="34.0" rx="2.9" ry="3.2" fill="#6414ff" transform="rotate(60 28.1 34.0)"/>
<ellipse cx="59.4" cy="36.6" rx="2.4" ry="2.7" fill="#4410e4" transform="rotate(60 59.4 36.6)"/>
<ellipse cx="58.0" cy="56.5" rx="2.4" ry="2.7" fill="#6414ff" transform="rotate(30 58.0 56.5)"/>
<ellipse cx="146.8" cy="94.0" rx="2.9" ry="2.7" fill="#6414ff"/>
<ellipse cx="155.3" cy="103.6" rx="2.7" ry="2.7" fill="#3200fa" transform="rotate(60 155.3 103.6)"/>
<ellipse cx="129.4" cy="105.9" rx="2.6" ry="2.6" fill="#3200fa" transform="rotate(30 129.4 105.9)"/>
<ellipse cx="124.4" cy="132.9" rx="2.7" ry="2.3" fill="#4410e4" transform="rotate(-30 124.4 132.9)"/>
<ellipse cx="67.2" cy="62.3" rx="2.4" ry="2.6" fill="#6414ff" transform="rotate(-30 67.2 62.3)"/>
<ellipse cx="63.8" cy="132.3" rx="2.9" ry="3.3" fill="#4410e4"/>
<ellipse cx="94.3" cy="73.1" rx="2.7" ry="2.7" fill="#3200fa" transform="rotate(30 94.3 73.1)"/>
<ellipse cx="72.5" cy="62.7" rx="2.7" ry="2.4" fill="#5a0ce6" transform="rotate(60 72.5 62.7)"/>
<ellipse cx="165.5" cy="102.1" rx="2.9" ry="3.0" fill="#3200fa" transform="rotate(-30 165.5 102.1)"/>
<ellipse cx="104.4" cy="60.1" rx="2.9" ry="3.2" fill="#4410e4" transform="rotate(60 104.4 60.1)"/>
<ellipse cx="171.4" cy="103.9" rx="2.9" ry="3.0" fill="#5a0ce6" transform="rotate(60 171.4 103.9)"/>
<ellipse cx="118.5" cy="59.2" rx="2.6" ry="2.3" fill="#4410e4" transform="rotate(30 118.5 59.2)"/>
<ellipse cx="34.9" cy="92.5" rx="2.7" ry="2.9" fill="#5a0ce6" transform="rotate(30 34.9 92.5)"/>
<ellipse cx="65.6" cy="29.3" rx="2.7" ry="2.7" fill="#3200fa"/>
<ellipse cx="127.3" cy="80.8" rx="2.6" ry="2.1" fill="#6414ff" transform="rotate(30 127.3 80.8)"/>
<ellipse cx="161.3" cy="171.2" rx="2.6" ry="2.4" fill="#4410e4"/>
<ellipse cx="159.8" cy="36.3" rx="2.6" ry="2.4" fill="#3200fa" transform="rotate(-30 159.8 36.3)"/>
<ellipse cx="122.5" cy="39.2" rx="2.4" ry="2.4" fill="#4410e4"/>
<ellipse cx="60.2" cy="51.9" rx="3.0" ry="3.3" fill="#4410e4" transform="rotate(60 60.2 51.9)"/>
<ellipse cx="157.7" cy="50.4" rx="2.9" ry="3.0" fill="#6414ff" transform="rotate(30 157.7 50.4)"/>
<ellipse cx="28.1" cy="55.0" rx="3.0" ry="3.3" fill="#4410e4" transform="rotate(-30 28.1 55.0)"/>
<ellipse cx="143.6" cy="37.1" rx="2.7" ry="3.2" fill="#6414ff" transform="rotate(60 143.6 37.1)"/>
<ellipse cx="56.8" cy="102.4" rx="2.6" ry="2.3" fill="#4410e4" transform="rotate(30 56.8 102.4)"/>
<ellipse cx="66.7" cy="85.4" rx="3.0" ry="2.7" fill="#6414ff" transform="rotate(60 66.7 85.4)"/>
<ellipse cx="134.2" cy="126.5" rx="2.6" ry="2.6" fill="#3200fa" transform="rotate(30 134.2 126.5)"/>
<ellipse cx="142.5" cy="161.2" rx="2.9" ry="2.9" fill="#4410e4" transform="rotate(60 142.5 161.2)"/>
<ellipse cx="131.7" cy="100.3" rx="2.9" ry="3.2" fill="#6414ff"/>
<ellipse cx="166.8" cy="153.1" rx="2.7" ry="2.9" fill="#5a0ce6" transform="rotate(30 166.8 153.1)"/>
<ellipse cx="148.0" cy="153.9" rx="2.7" ry="2.7" fill="#5a0ce6" transform="rotate(-30 148.0 153.9)"/>
<ellipse cx="146.3" cy="43.0" rx="2.6" ry="2.3" fill="#5a0ce6" transform="rotate(60 146.3 43.0)"/>
<ellipse cx="45.9" cy="103.6" rx="2.9" ry="2.4" fill="#4410e4" transform="rotate(30 45.9 103.6)"/>
<ellipse cx="180.8" cy="159.1" rx="2.6" ry="2.3" fill="#4410e4" transform="rotate(-30 180.8 159.1)"/>
<ellipse cx="107.4" cy="48.1" rx="3.0" ry="2.6" fill="#6414ff" transform="rotate(60 107.4 48.1)"/>
<ellipse cx="133.8" cy="119.4" rx="2.6" ry="2.6" fill="#4410e4" transform="rotate(30 133.8 119.4)"/>
<ellipse cx="148.0" cy="127.1" rx="3.0" ry="2.6" fill="#6414ff" transform="rotate(30 148.0 127.1)"/>
<ellipse cx="69.4" cy="47.8" rx="2.4" ry="2.6" fill="#5a0ce6" transform="rotate(60 69.4 47.8)"/>
<ellipse cx="58.2" cy="64.6" rx="2.6" ry="2.3" fill="#4410e4" transform="rotate(-30 58.2 64.6)"/>
<ellipse cx="127.6" cy="146.9" rx="2.7" ry="2.6" fill="#3200fa" transform="rotate(60 127.6 146.9)"/>
<ellipse cx="42.8" cy="62.3" rx="2.9" ry="2.9" fill="#3200fa" transform="rotate(60 42.8 62.3)"/>
<ellipse cx="163.5" cy="133.7" rx="2.9" ry="2.6" fill="#4410e4" transform="rotate(-30 163.5 133.7)"/>
<ellipse cx="129.0" cy="158.3" rx="2.9" ry="2.7" fill="#6414ff" transform="rotate(-30 129.0 158.3)"/>
<ellipse cx="58.0" cy="90.1" rx="2.4" ry="2.3" fill="#4410e4"/>
<ellipse cx="9.7" cy="32.5" rx="3.0" ry="2.6" fill="#6414ff" transform="rotate(-30 9.7 32.5)"/>
<ellipse cx="164.1" cy="114.7" rx="2.6" ry="2.3" fill="#5a0ce6" transform="rotate(30 164.1 114.7)"/>
<ellipse cx="71.9" cy="79.3" rx="2.9" ry="3.3" fill="#6414ff"/>
<ellipse cx="22.9" cy="56.3" rx="2.4" ry="2.3" fill="#6414ff" transform="rotate(-30 22.9 56.3)"/>
<ellipse cx="61.5" cy="80.8" rx="2.4" ry="2.1" fill="#3200fa" transform="rotate(30 61.5 80.8)"/>
<ellipse cx="141.1" cy="75.6" rx="2.6" ry="2.4" fill="#4410e4" transform="rotate(60 141.1 75.6)"/>
<ellipse cx="73.8" cy="41.0" rx="2.6" ry="2.3" fill="#5a0ce6" transform="rotate(60 73.8 41.0)"/>
<ellipse cx="109.8" cy="115.9" rx="2.7" ry="3.0" fill="#6414ff" transform="rotate(30 109.8 115.9)"/>
<ellipse cx="59.4" cy="15.9" rx="2.6" ry="2.4" fill="#6414ff" transform="rotate(-30 59.4 15.9)"/>
<ellipse cx="176.1" cy="140.4" rx="2.9" ry="3.2" fill="#4410e4" transform="rotate(30 176.1 140.4)"/>
<ellipse cx="143.7" cy="24.1" rx="2.4" ry="2.3" fill="#6414ff" transform="rotate(30 143.7 24.1)"/>
<ellipse cx="39.0" cy="77.6" rx="2.7" ry="2.9" fill="#4410e4" transform="rotate(-30 39.0 77.6)"/>
<ellipse cx="8.5" cy="93.7" rx="2.9" ry="3.0" fill="#6414ff" transform="rotate(30 8.5 93.7)"/>
<ellipse cx="147.1" cy="69.0" rx="2.4" ry="2.7" fill="#4410e4"/>
<ellipse cx="143.6" cy="109.7" rx="2.7" ry="2.9" fill="#5a0ce6" transform="rotate(-30 143.6 109.7)"/>
<ellipse cx="26.3" cy="38.7" rx="2.4" ry="2.4" fill="#4410e4"/>
<ellipse cx="34.8" cy="17.2" rx="2.6" ry="2.7" fill="#4410e4" transform="rotate(60 34.8 17.2)"/>
<ellipse cx="87.2" cy="72.0" rx="2.9" ry="3.0" fill="#6414ff" transform="rotate(30 87.2 72.0)"/>
<ellipse cx="65.9" cy="127.3" rx="2.6" ry="2.6" fill="#4410e4" transform="rotate(30 65.9 127.3)"/>
<ellipse cx="101.3" cy="76.3" rx="3.0" ry="3.2" fill="#6414ff" transform="rotate(30 101.3 76.3)"/>
<ellipse cx="159.7" cy="72.8" rx="2.4" ry="2.3" fill="#4410e4" transform="rotate(-30 159.7 72.8)"/>
<ellipse cx="162.7" cy="52.1" rx="2.7" ry="2.4" fill="#3200fa" transform="rotate(30 162.7 52.1)"/>
<ellipse cx="28.6" cy="61.7" rx="2.9" ry="3.2" fill="#6414ff"/>
<ellipse cx="54.2" cy="96.8" rx="2.9" ry="2.7" fill="#5a0ce6" transform="rotate(60 54.2 96.8)"/>
<ellipse cx="161.8" cy="110.1" rx="3.0" ry="2.6" fill="#3200fa" transform="rotate(-30 161.8 110.1)"/>
<ellipse cx="51.2" cy="72.0" rx="2.4" ry="2.4" fill="#6414ff" transform="rotate(60 51.2 72.0)"/>
<ellipse cx="130.5" cy="62.3" rx="2.9" ry="3.2" fill="#6414ff"/>
<ellipse cx="122.0" cy="104.8" rx="3.0" ry="2.9" fill="#5a0ce6" transform="rotate(30 122.0 104.8)"/>
<ellipse cx="152.1" cy="122.7" rx="2.6" ry="2.1" fill="#3200fa"/>
<ellipse cx="146.9" cy="77.0" rx="2.7" ry="3.0" fill="#4410e4"/>
<ellipse cx="156.6" cy="83.2" rx="2.6" ry="2.9" fill="#6414ff" transform="rotate(60 156.6 83.2)"/>
<ellipse cx="44.8" cy="75.8" rx="2.7" ry="3.0" fill="#6414ff" transform="rotate(-30 44.8 75.8)"/>
<ellipse cx="122.3" cy="112.4" rx="2.4" ry="2.3" fill="#4410e4" transform="rotate(30 122.3 112.4)"/>
<ellipse cx="153.8" cy="145.8" rx="2.9" ry="2.7" fill="#6414ff" transform="rotate(60 153.8 145.8)"/>
<ellipse cx="49.2" cy="40.1" rx="2.6" ry="2.3" fill="#6414ff"/>
<ellipse cx="141.1" cy="89.2" rx="2.9" ry="3.2" fill="#6414ff"/>
<ellipse cx="140.7" cy="55.3" rx="2.4" ry="2.3" fill="#6414ff" transform="rotate(-30 140.7 55.3)"/>
<ellipse cx="24.3" cy="24.3" rx="2.9" ry="2.9" fill="#4410e4" transform="rotate(30 24.3 24.3)"/>
<ellipse cx="61.2" cy="43.3" rx="2.4" ry="2.6" fill="#3200fa" transform="rotate(-30 61.2 43.3)"/>
<ellipse cx="113.8" cy="79.9" rx="2.9" ry="2.7" fill="#6414ff" transform="rotate(-30 113.8 79.9)"/>
<ellipse cx="137.5" cy="98.6" rx="2.7" ry="3.0" fill="#5a0ce6" transform="rotate(30 137.5 98.6)"/>
<ellipse cx="180.3" cy="153.9" rx="2.9" ry="2.9" fill="#3200fa" transform="rotate(60 180.3 153.9)"/>
<ellipse cx="163.5" cy="95.1" rx="2.6" ry="2.4" fill="#5a0ce6" transform="rotate(30 163.5 95.1)"/>
<ellipse cx="45.7" cy="30.1" rx="2.4" ry="2.6" fill="#6414ff" transform="rotate(-30 45.7 30.1)"/>
<ellipse cx="135.4" cy="33.3" rx="2.6" ry="2.6" fill="#5a0ce6"/>
<ellipse cx="64.0" cy="115.1" rx="2.9" ry="3.2" fill="#4410e4" transform="rotate(-30 64.0 115.1)"/>
<ellipse cx="41.5" cy="41.3" rx="2.7" ry="2.7" fill="#5a0ce6" transform="rotate(-30 41.5 41.3)"/>
<ellipse cx="109.2" cy="58.9" rx="2.6" ry="2.9" fill="#4410e4" transform="rotate(60 109.2 58.9)"/>
<ellipse cx="47.6" cy="87.3" rx="2.9" ry="2.7" fill="#6414ff" transform="rotate(-30 47.6 87.3)"/>
<ellipse cx="145.7" cy="117.3" rx="2.9" ry="2.9" fill="#6414ff" transform="rotate(-30 145.7 117.3)"/>
<ellipse cx="171.5" cy="113.6" rx="3.0" ry="3.2" fill="#4410e4" transform="rotate(60 171.5 113.6)"/>
<ellipse cx="136.9" cy="143.6" rx="2.7" ry="2.6" fill="#5a0ce6" transform="rotate(-30 136.9 143.6)"/>
<ellipse cx="42.1" cy="70.9" rx="2.6" ry="2.9" fill="#4410e4" transform="rotate(30 42.1 70.9)"/>
<ellipse cx="167.3" cy="63.3" rx="2.4" ry="2.3" fill="#4410e4" transform="rotate(30 167.3 63.3)"/>
<ellipse cx="50.7" cy="11.4" rx="2.9" ry="2.9" fill="#6414ff" transform="rotate(-30 50.7 11.4)"/>
<ellipse cx="132.3" cy="83.7" rx="2.7" ry="2.6" fill="#6414ff"/>
<ellipse cx="125.2" cy="116.7" rx="2.7" ry="2.7" fill="#5a0ce6"/>
<ellipse cx="7.1" cy="85.5" rx="2.7" ry="2.7" fill="#5a0ce6" transform="rotate(60 7.1 85.5)"/>
<ellipse cx="144.8" cy="132.2" rx="2.6" ry="2.3" fill="#4410e4"/>
<ellipse cx="170.6" cy="92.5" rx="2.9" ry="2.6" fill="#5a0ce6" transform="rotate(-30 170.6 92.5)"/>
<ellipse cx="39.2" cy="50.1" rx="3.0" ry="3.3" fill="#5a0ce6" transform="rotate(-30 39.2 50.1)"/>
<ellipse cx="179.9" cy="143.7" rx="2.6" ry="2.6" fill="#6414ff" transform="rotate(-30 179.9 143.7)"/>
<ellipse cx="147.2" cy="163.9" rx="2.4" ry="2.6" fill="#6414ff" transform="rotate(60 147.2 163.9)"/>
<ellipse cx="46.9" cy="92.8" rx="2.9" ry="3.2" fill="#4410e4" transform="rotate(60 46.9 92.8)"/>
<ellipse cx="137.3" cy="166.8" rx="2.6" ry="2.3" fill="#6414ff" transform="rotate(60 137.3 166.8)"/>
<ellipse cx="51.5" cy="58.2" rx="2.6" ry="2.1" fill="#6414ff"/>
<ellipse cx="187.5" cy="168.6" rx="2.6" ry="2.6" fill="#4410e4" transform="rotate(60 187.5 168.6)"/>
<ellipse cx="102.7" cy="91.3" rx="2.6" ry="2.6" fill="#4410e4" transform="rotate(60 102.7 91.3)"/>
<ellipse cx="115.8" cy="48.3" rx="2.9" ry="3.2" fill="#6414ff" transform="rotate(-30 115.8 48.3)"/>
<ellipse cx="70.3" cy="73.1" rx="2.6" ry="2.6" fill="#4410e4" transform="rotate(30 70.3 73.1)"/>
<ellipse cx="138.4" cy="49.1" rx="2.7" ry="3.2" fill="#5a0ce6"/>
<ellipse cx="106.8" cy="107.4" rx="2.6" ry="2.3" fill="#3200fa"/>
<ellipse cx="55.5" cy="32.8" rx="2.9" ry="3.2" fill="#4410e4"/>
<ellipse cx="41.8" cy="34.9" rx="2.7" ry="2.7" fill="#5a0ce6" transform="rotate(60 41.8 34.9)"/>
<ellipse cx="125.5" cy="35.1" rx="2.4" ry="2.4" fill="#5a0ce6" transform="rotate(60 125.5 35.1)"/>
<ellipse cx="64.1" cy="70.2" rx="2.6" ry="2.4" fill="#4410e4" transform="rotate(30 64.1 70.2)"/>
<ellipse cx="126.3" cy="72.5" rx="2.7" ry="2.9" fill="#4410e4"/>
<ellipse cx="162.6" cy="41.2" rx="2.4" ry="2.7" fill="#4410e4"/>
<ellipse cx="140.2" cy="135.7" rx="2.9" ry="3.0" fill="#4410e4" transform="rotate(30 140.2 135.7)"/>
<ellipse cx="115.2" cy="119.7" rx="2.9" ry="3.0" fill="#4410e4"/>
<ellipse cx="145.7" cy="54.1" rx="2.6" ry="2.7" fill="#4410e4" transform="rotate(30 145.7 54.1)"/>
<ellipse cx="138.7" cy="43.0" rx="2.9" ry="3.3" fill="#5a0ce6" transform="rotate(60 138.7 43.0)"/>
<ellipse cx="71.6" cy="87.5" rx="2.7" ry="3.2" fill="#4410e4" transform="rotate(-30 71.6 87.5)"/>
<ellipse cx="139.9" cy="103.4" rx="2.6" ry="2.3" fill="#5a0ce6" transform="rotate(60 139.9 103.4)"/>
<ellipse cx="153.0" cy="62.4" rx="2.9" ry="2.6" fill="#4410e4" transform="rotate(30 153.0 62.4)"/>
<ellipse cx="175.6" cy="109.2" rx="2.7" ry="2.4" fill="#3200fa" transform="rotate(60 175.6 109.2)"/>
<ellipse cx="155.0" cy="165.6" rx="2.6" ry="2.6" fill="#5a0ce6"/>
<ellipse cx="108.2" cy="76.6" rx="2.7" ry="3.0" fill="#6414ff"/>
<ellipse cx="159.4" cy="127.9" rx="2.6" ry="2.6" fill="#4410e4" transform="rotate(60 159.4 127.9)"/>
<ellipse cx="155.6" cy="156.2" rx="2.9" ry="2.6" fill="#5a0ce6"/>
<ellipse cx="152.2" cy="140.5" rx="2.7" ry="2.3" fill="#5a0ce6"/>
<ellipse cx="121.2" cy="71.2" rx="2.7" ry="3.0" fill="#4410e4" transform="rotate(30 121.2 71.2)"/>
<ellipse cx="166.1" cy="141.6" rx="2.6" ry="2.3" fill="#6414ff" transform="rotate(-30 166.1 141.6)"/>
<ellipse cx="133.7" cy="26.3" rx="2.6" ry="2.3" fill="#5a0ce6" transform="rotate(30 133.7 26.3)"/>
<ellipse cx="106.7" cy="64.7" rx="2.9" ry="2.7" fill="#3200fa" transform="rotate(-30 106.7 64.7)"/>
<ellipse cx="158.8" cy="89.9" rx="2.9" ry="3.0" fill="#3200fa"/>
<ellipse cx="177.8" cy="171.8" rx="2.9" ry="2.4" fill="#3200fa" transform="rotate(-30 177.8 171.8)"/>
<ellipse cx="32.2" cy="26.0" rx="2.9" ry="3.0" fill="#4410e4" transform="rotate(30 32.2 26.0)"/>
<ellipse cx="132.2" cy="151.2" rx="2.9" ry="2.6" fill="#4410e4" transform="rotate(60 132.2 151.2)"/>
<ellipse cx="57.4" cy="25.8" rx="2.4" ry="2.3" fill="#5a0ce6" transform="rotate(30 57.4 25.8)"/>
<ellipse cx="152.1" cy="43.9" rx="2.6" ry="2.7" fill="#4410e4" transform="rotate(-30 152.1 43.9)"/>
<ellipse cx="129.0" cy="91.3" rx="2.9" ry="2.7" fill="#3200fa" transform="rotate(-30 129.0 91.3)"/>
<ellipse cx="103.9" cy="53.2" rx="2.4" ry="2.6" fill="#3200fa" transform="rotate(-30 103.9 53.2)"/>
<ellipse cx="92.7" cy="53.3" rx="2.6" ry="2.1" fill="#4410e4" transform="rotate(30 92.7 53.3)"/>
<ellipse cx="117.6" cy="100.4" rx="2.9" ry="3.2" fill="#6414ff" transform="rotate(-30 117.6 100.4)"/>
<ellipse cx="21.1" cy="46.2" rx="2.9" ry="2.7" fill="#6414ff" transform="rotate(60 21.1 46.2)"/>
<ellipse cx="147.5" cy="84.8" rx="2.9" ry="2.9" fill="#6414ff" transform="rotate(30 147.5 84.8)"/>
<ellipse cx="111.8" cy="99.2" rx="3.0" ry="2.7" fill="#4410e4" transform="rotate(60 111.8 99.2)"/>
<ellipse cx="187.3" cy="156.3" rx="2.7" ry="2.9" fill="#3200fa" transform="rotate(-30 187.3 156.3)"/>
<ellipse cx="151.9" cy="93.9" rx="3.0" ry="3.0" fill="#6414ff"/>
<ellipse cx="10.0" cy="49.1" rx="2.9" ry="3.2" fill="#3200fa" transform="rotate(60 10.0 49.1)"/>
<ellipse cx="134.8" cy="109.4" rx="2.7" ry="2.7" fill="#3200fa"/>
<ellipse cx="120.3" cy="86.0" rx="2.6" ry="2.1" fill="#4410e4" transform="rotate(-30 120.3 86.0)"/>
<ellipse cx="99.4" cy="84.8" rx="2.7" ry="2.9" fill="#6414ff" transform="rotate(60 99.4 84.8)"/>
<ellipse cx="168.6" cy="50.9" rx="2.4" ry="2.4" fill="#4410e4" transform="rotate(60 168.6 50.9)"/>
<ellipse cx="69.7" cy="131.4" rx="2.9" ry="3.2" fill="#4410e4" transform="rotate(60 69.7 131.4)"/>
<ellipse cx="174.6" cy="120.9" rx="2.6" ry="2.3" fill="#5a0ce6"/>
<ellipse cx="41.6" cy="23.7" rx="2.7" ry="3.0" fill="#4410e4" transform="rotate(-30 41.6 23.7)"/>
<ellipse cx="131.9" cy="71.1" rx="2.9" ry="3.0" fill="#6414ff" transform="rotate(-30 131.9 71.1)"/>
<ellipse cx="147.1" cy="105.9" rx="2.6" ry="2.7" fill="#4410e4" transform="rotate(60 147.1 105.9)"/>
<ellipse cx="104.4" cy="69.4" rx="2.4" ry="2.7" fill="#6414ff" transform="rotate(60 104.4 69.4)"/>
<ellipse cx="136.0" cy="80.0" rx="2.6" ry="2.3" fill="#3200fa" transform="rotate(60 136.0 80.0)"/>
<ellipse cx="148.9" cy="100.1" rx="2.7" ry="2.9" fill="#6414ff" transform="rotate(-30 148.9 100.1)"/>
<ellipse cx="88.7" cy="83.7" rx="2.7" ry="3.0" fill="#4410e4" transform="rotate(-30 88.7 83.7)"/>
<ellipse cx="8.7" cy="38.6" rx="3.0" ry="2.6" fill="#4410e4" transform="rotate(60 8.7 38.6)"/>
<ellipse cx="114.6" cy="36.7" rx="2.6" ry="2.6" fill="#4410e4" transform="rotate(60 114.6 36.7)"/>
<ellipse cx="137.8" cy="60.3" rx="2.4" ry="2.4" fill="#4410e4" transform="rotate(-30 137.8 60.3)"/>
<ellipse cx="105.4" cy="83.2" rx="3.0" ry="3.2" fill="#4410e4" transform="rotate(60 105.4 83.2)"/>
<ellipse cx="64.3" cy="76.6" rx="2.7" ry="3.0" fill="#6414ff"/>
<ellipse cx="60.9" cy="120.9" rx="2.6" ry="2.4" fill="#4410e4" transform="rotate(60 60.9 120.9)"/>
<ellipse cx="20.7" cy="28.5" rx="2.7" ry="2.6" fill="#3200fa" transform="rotate(30 20.7 28.5)"/>
<ellipse cx="166.2" cy="75.6" rx="2.9" ry="2.4" fill="#5a0ce6"/>
<ellipse cx="153.3" cy="73.2" rx="2.7" ry="2.4" fill="#3200fa" transform="rotate(-30 153.3 73.2)"/>
<ellipse cx="128.8" cy="43.6" rx="2.7" ry="2.9" fill="#6414ff" transform="rotate(-30 128.8 43.6)"/>
<ellipse cx="41.8" cy="98.7" rx="2.7" ry="2.9" fill="#4410e4" transform="rotate(-30 41.8 98.7)"/>
<ellipse cx="51.8" cy="137.8" rx="2.9" ry="2.7" fill="#6414ff"/>
<ellipse cx="62.4" cy="60.0" rx="2.6" ry="2.7" fill="#4410e4" transform="rotate(60 62.4 60.0)"/>
<ellipse cx="114.7" cy="130.5" rx="2.7" ry="2.7" fill="#3200fa" transform="rotate(30 114.7 130.5)"/>
<ellipse cx="165.8" cy="69.4" rx="2.9" ry="2.4" fill="#6414ff" transform="rotate(60 165.8 69.4)"/>
<ellipse cx="98.6" cy="55.3" rx="2.6" ry="2.6" fill="#6414ff"/>
<ellipse cx="122.3" cy="52.2" rx="2.6" ry="2.7" fill="#6414ff" transform="rotate(30 122.3 52.2)"/>
<ellipse cx="110.1" cy="43.7" rx="2.7" ry="2.9" fill="#4410e4" transform="rotate(60 110.1 43.7)"/>
<ellipse cx="14.9" cy="21.9" rx="2.9" ry="2.4" fill="#4410e4"/>
<ellipse cx="126.7" cy="125.2" rx="2.7" ry="2.3" fill="#3200fa"/>
<ellipse cx="119.1" cy="125.2" rx="2.6" ry="2.6" fill="#5a0ce6" transform="rotate(30 119.1 125.2)"/>
<ellipse cx="169.6" cy="158.7" rx="2.4" ry="2.4" fill="#6414ff" transform="rotate(-30 169.6 158.7)"/>
<ellipse cx="84.0" cy="75.9" rx="2.6" ry="2.7" fill="#3200fa" transform="rotate(-30 84.0 75.9)"/>
<ellipse cx="154.4" cy="171.7" rx="2.9" ry="3.2" fill="#6414ff" transform="rotate(-30 154.4 171.7)"/>
<ellipse cx="62.6" cy="24.4" rx="2.6" ry="3.0" fill="#6414ff"/>
<ellipse cx="27.8" cy="18.7" rx="2.7" ry="2.3" fill="#4410e4"/>
<ellipse cx="124.3" cy="140.2" rx="2.7" ry="2.7" fill="#4410e4"/>
<ellipse cx="145.5" cy="149.3" rx="2.7" ry="3.0" fill="#4410e4" transform="rotate(60 145.5 149.3)"/>
<ellipse cx="175.0" cy="166.2" rx="2.6" ry="2.7" fill="#4410e4" transform="rotate(60 175.0 166.2)"/>
<ellipse cx="150.6" cy="21.7" rx="2.4" ry="2.3" fill="#3200fa" transform="rotate(30 150.6 21.7)"/>
<ellipse cx="131.3" cy="139.8" rx="3.0" ry="3.2" fill="#4410e4" transform="rotate(-30 131.3 139.8)"/>
<ellipse cx="52.1" cy="27.2" rx="2.6" ry="2.7" fill="#4410e4" transform="rotate(60 52.1 27.2)"/>
<ellipse cx="134.3" cy="52.6" rx="2.9" ry="3.2" fill="#6414ff"/>
<ellipse cx="58.5" cy="140.1" rx="2.4" ry="2.6" fill="#6414ff" transform="rotate(60 58.5 140.1)"/>
<ellipse cx="35.6" cy="62.6" rx="3.0" ry="3.3" fill="#3200fa" transform="rotate(30 35.6 62.6)"/>
<ellipse cx="51.7" cy="110.9" rx="2.6" ry="2.7" fill="#6414ff" transform="rotate(30 51.7 110.9)"/>
<ellipse cx="37.1" cy="43.7" rx="2.6" ry="2.6" fill="#6414ff"/>
<ellipse cx="149.3" cy="28.8" rx="2.9" ry="3.0" fill="#5a0ce6"/>
<ellipse cx="89.8" cy="64.6" rx="2.9" ry="3.0" fill="#5a0ce6" transform="rotate(-30 89.8 64.6)"/>
<ellipse cx="158.0" cy="135.8" rx="2.7" ry="2.6" fill="#6414ff"/>
<ellipse cx="65.2" cy="39.8" rx="2.7" ry="2.3" fill="#3200fa"/>
<ellipse cx="57.6" cy="132.6" rx="2.7" ry="2.6" fill="#5a0ce6"/>
<ellipse cx="102.9" cy="101.2" rx="2.9" ry="3.0" fill="#4410e4" transform="rotate(30 102.9 101.2)"/>
<ellipse cx="141.1" cy="32.0" rx="2.4" ry="2.7" fill="#6414ff" transform="rotate(30 141.1 32.0)"/>
<ellipse cx="55.5" cy="76.1" rx="3.0" ry="3.0" fill="#3200fa" transform="rotate(60 55.5 76.1)"/>
<ellipse cx="46.9" cy="109.1" rx="2.4" ry="2.4" fill="#3200fa" transform="rotate(30 46.9 109.1)"/>
<ellipse cx="159.8" cy="159.8" rx="2.7" ry="2.9" fill="#4410e4"/>
<ellipse cx="51.2" cy="65.9" rx="2.6" ry="2.7" fill="#6414ff"/>
<ellipse cx="2.7" cy="88.7" rx="2.7" ry="2.4" fill="#5a0ce6"/>
<ellipse cx="39.3" cy="13.2" rx="3.0" ry="3.0" fill="#6414ff" transform="rotate(60 39.3 13.2)"/>
<ellipse cx="71.6" cy="53.5" rx="2.7" ry="2.6" fill="#4410e4"/>
<ellipse cx="53.5" cy="51.8" rx="2.4" ry="2.1" fill="#6414ff" transform="rotate(60 53.5 51.8)"/>
<ellipse cx="46.9" cy="45.3" rx="2.4" ry="2.3" fill="#6414ff" transform="rotate(30 46.9 45.3)"/>
<ellipse cx="176.2" cy="132.8" rx="2.9" ry="3.0" fill="#3200fa" transform="rotate(-30 176.2 132.8)"/>
<ellipse cx="171.5" cy="145.4" rx="2.4" ry="2.3" fill="#4410e4" transform="rotate(60 171.5 145.4)"/>
<ellipse cx="94.7" cy="79.4" rx="3.0" ry="2.9" fill="#6414ff" transform="rotate(30 94.7 79.4)"/>
<ellipse cx="131.3" cy="131.2" rx="3.0" ry="2.6" fill="#6414ff" transform="rotate(-30 131.3 131.2)"/>
<ellipse cx="57.3" cy="116.5" rx="2.7" ry="2.7" fill="#4410e4" transform="rotate(-30 57.3 116.5)"/>
<ellipse cx="116.5" cy="63.9" rx="2.7" ry="2.4" fill="#5a0ce6" transform="rotate(-30 116.5 63.9)"/>
<ellipse cx="115.5" cy="73.4" rx="3.0" ry="3.3" fill="#4410e4" transform="rotate(60 115.5 73.4)"/>
<ellipse cx="153.4" cy="78.4" rx="2.4" ry="2.7" fill="#4410e4"/>
<ellipse cx="145.4" cy="48.8" rx="2.6" ry="2.6" fill="#6414ff" transform="rotate(60 145.4 48.8)"/>
<ellipse cx="59.4" cy="95.2" rx="2.7" ry="3.2" fill="#4410e4" transform="rotate(30 59.4 95.2)"/>
<ellipse cx="117.0" cy="90.2" rx="2.9" ry="3.0" fill="#5a0ce6" transform="rotate(30 117.0 90.2)"/>
<ellipse cx="127.8" cy="57.7" rx="2.7" ry="2.9" fill="#5a0ce6"/>
<ellipse cx="120.8" cy="78.5" rx="2.4" ry="2.4" fill="#6414ff"/>
<ellipse cx="138.7" cy="130.3" rx="3.0" ry="3.3" fill="#6414ff" transform="rotate(60 138.7 130.3)"/>
<ellipse cx="151.3" cy="49.5" rx="2.4" ry="2.4" fill="#6414ff" transform="rotate(-30 151.3 49.5)"/>
<ellipse cx="133.7" cy="46.6" rx="3.0" ry="2.9" fill="#6414ff" transform="rotate(60 133.7 46.6)"/>
<ellipse cx="158.2" cy="117.0" rx="2.7" ry="3.0" fill="#6414ff" transform="rotate(30 158.2 117.0)"/>
<ellipse cx="31.9" cy="43.9" rx="3.0" ry="3.3" fill="#6414ff" transform="rotate(60 31.9 43.9)"/>
<ellipse cx="41.2" cy="56.7" rx="2.6" ry="2.6" fill="#6414ff" transform="rotate(60 41.2 56.7)"/>
<ellipse cx="118.2" cy="134.3" rx="2.7" ry="2.7" fill="#6414ff" transform="rotate(-30 118.2 134.3)"/>
<ellipse cx="175.8" cy="96.6" rx="2.7" ry="3.2" fill="#4410e4" transform="rotate(30 175.8 96.6)"/>
<ellipse cx="39.0" cy="66.2" rx="2.7" ry="2.6" fill="#6414ff" transform="rotate(-30 39.0 66.2)"/>
<ellipse cx="65.5" cy="55.4" rx="2.7" ry="2.6" fill="#5a0ce6" transform="rotate(60 65.5 55.4)"/>
<ellipse cx="131.6" cy="76.3" rx="2.9" ry="2.7" fill="#4410e4"/>
<ellipse cx="54.8" cy="41.6" rx="2.6" ry="2.7" fill="#6414ff" transform="rotate(30 54.8 41.6)"/>
<ellipse cx="88.9" cy="78.5" rx="2.7" ry="2.9" fill="#6414ff" transform="rotate(60 88.9 78.5)"/>
<ellipse cx="164.1" cy="146.9" rx="2.9" ry="3.0" fill="#5a0ce6" transform="rotate(30 164.1 146.9)"/>
<ellipse cx="140.2" cy="115.3" rx="2.7" ry="2.9" fill="#6414ff" transform="rotate(30 140.2 115.3)"/>
<ellipse cx="133.8" cy="156.2" rx="2.4" ry="2.7" fill="#4410e4" transform="rotate(30 133.8 156.2)"/>
<ellipse cx="161.7" cy="85.5" rx="2.6" ry="2.4" fill="#5a0ce6" transform="rotate(30 161.7 85.5)"/>
<ellipse cx="113.9" cy="104.4" rx="2.6" ry="2.7" fill="#4410e4" transform="rotate(30 113.9 104.4)"/>
<ellipse cx="154.1" cy="38.3" rx="2.4" ry="2.7" fill="#5a0ce6" transform="rotate(30 154.1 38.3)"/>
<ellipse cx="167.4" cy="107.9" rx="2.6" ry="2.9" fill="#4410e4" transform="rotate(-30 167.4 107.9)"/>
<ellipse cx="70.2" cy="36.9" rx="2.7" ry="2.9" fill="#6414ff" transform="rotate(-30 70.2 36.9)"/>
<ellipse cx="159.4" cy="100.3" rx="2.6" ry="2.3" fill="#6414ff" transform="rotate(60 159.4 100.3)"/>
<ellipse cx="93.6" cy="87.2" rx="2.6" ry="2.4" fill="#6414ff" transform="rotate(30 93.6 87.2)"/>
<ellipse cx="44.4" cy="81.3" rx="2.9" ry="2.7" fill="#4410e4" transform="rotate(60 44.4 81.3)"/>
<ellipse cx="186.0" cy="162.9" rx="2.4" ry="2.7" fill="#4410e4"/>
<ellipse cx="125.8" cy="101.2" rx="3.0" ry="2.7" fill="#3200fa" transform="rotate(30 125.8 101.2)"/>
<ellipse cx="46.8" cy="56.3" rx="2.6" ry="2.4" fill="#4410e4" transform="rotate(30 46.8 56.3)"/>
<ellipse cx="45.9" cy="67.0" rx="3.0" ry="2.9" fill="#4410e4"/>
<ellipse cx="168.5" cy="130.5" rx="2.4" ry="2.1" fill="#5a0ce6" transform="rotate(60 168.5 130.5)"/>
<ellipse cx="6.1" cy="45.4" rx="2.6" ry="2.6" fill="#4410e4" transform="rotate(-30 6.1 45.4)"/>
<ellipse cx="21.0" cy="34.8" rx="2.7" ry="2.4" fill="#4410e4"/>
<ellipse cx="47.4" cy="97.8" rx="2.7" ry="2.9" fill="#4410e4" transform="rotate(30 47.4 97.8)"/>
<ellipse cx="147.2" cy="176.5" rx="2.7" ry="2.4" fill="#3200fa" transform="rotate(60 147.2 176.5)"/>
<ellipse cx="163.9" cy="177.3" rx="2.4" ry="2.3" fill="#4410e4" transform="rotate(60 163.9 177.3)"/>
<ellipse cx="3.2" cy="94.8" rx="2.6" ry="2.6" fill="#5a0ce6" transform="rotate(60 3.2 94.8)"/>
<ellipse cx="100.0" cy="96.9" rx="3.0" ry="3.3" fill="#4410e4" transform="rotate(-30 100.0 96.9)"/>
<ellipse cx="123.5" cy="45.7" rx="3.0" ry="3.3" fill="#3200fa"/>
<ellipse cx="165.9" cy="126.1" rx="2.7" ry="2.4" fill="#5a0ce6" transform="rotate(60 165.9 126.1)"/>
<ellipse cx="97.2" cy="102.5" rx="2.9" ry="3.0" fill="#6414ff" transform="rotate(-30 97.2 102.5)"/>
<ellipse cx="120.3" cy="32.3" rx="2.9" ry="2.9" fill="#6414ff" transform="rotate(30 120.3 32.3)"/>
<ellipse cx="94.5" cy="3.8" rx="2.4" ry="2.4" fill="#4410e4"/>
<ellipse cx="187.2" cy="14.4" rx="1.5" ry="2.1" fill="#3200fa"/>
<ellipse cx="96.5" cy="52.9" rx="3.0" ry="3.8" fill="#4410e4"/>
<ellipse cx="82.8" cy="79.4" rx="3.8" ry="3.3" fill="#4410e4"/>
<ellipse cx="27.3" cy="48.3" rx="3.0" ry="2.7" fill="#ff12cc"/>
<ellipse cx="50.9" cy="102.5" rx="3.0" ry="2.7" fill="#ff12cc"/>
<ellipse cx="54.7" cy="122.0" rx="3.0" ry="2.7" fill="#ff12cc"/>
<ellipse cx="57.0" cy="127.3" rx="3.0" ry="2.7" fill="#ff12cc"/>
<ellipse cx="48.9" cy="129.3" rx="3.0" ry="2.7" fill="#ff12cc"/>
<ellipse cx="64.1" cy="139.8" rx="3.0" ry="2.7" fill="#ff12cc"/>
<ellipse cx="71.1" cy="136.4" rx="3.0" ry="2.7" fill="#ff12cc"/>
<ellipse cx="136.0" cy="21.7" rx="3.0" ry="2.7" fill="#ff12cc"/>
<ellipse cx="154.7" cy="25.5" rx="3.0" ry="2.7" fill="#ff12cc"/>
<ellipse cx="129.9" cy="31.1" rx="3.0" ry="2.7" fill="#ff12cc"/>
<ellipse cx="149.3" cy="34.6" rx="3.0" ry="2.7" fill="#ff12cc"/>
<ellipse cx="116.7" cy="41.5" rx="3.0" ry="2.7" fill="#ff12cc"/>
<ellipse cx="166.8" cy="44.8" rx="3.0" ry="2.7" fill="#ff12cc"/>
<ellipse cx="80.8" cy="48.3" rx="3.0" ry="2.7" fill="#ff12cc"/>
<ellipse cx="153.4" cy="54.4" rx="3.0" ry="2.7" fill="#ff12cc"/>
<ellipse cx="163.3" cy="57.4" rx="3.0" ry="2.7" fill="#ff12cc"/>
<ellipse cx="125.8" cy="64.6" rx="3.0" ry="2.7" fill="#ff12cc"/>
<ellipse cx="112.1" cy="68.5" rx="3.0" ry="2.7" fill="#ff12cc"/>
<ellipse cx="138.6" cy="69.1" rx="3.0" ry="2.7" fill="#ff12cc"/>
<ellipse cx="99.5" cy="70.8" rx="3.0" ry="2.7" fill="#ff12cc"/>
<ellipse cx="141.3" cy="83.2" rx="3.0" ry="2.7" fill="#ff12cc"/>
<ellipse cx="164.4" cy="90.1" rx="3.0" ry="2.7" fill="#ff12cc"/>
<ellipse cx="122.3" cy="91.9" rx="3.0" ry="2.7" fill="#ff12cc"/>
<ellipse cx="115.5" cy="111.0" rx="3.0" ry="2.7" fill="#ff12cc"/>
<ellipse cx="168.3" cy="118.9" rx="3.0" ry="2.7" fill="#ff12cc"/>
<ellipse cx="161.8" cy="123.2" rx="3.0" ry="2.7" fill="#ff12cc"/>
<ellipse cx="158.8" cy="147.1" rx="3.0" ry="2.7" fill="#ff12cc"/>
<ellipse cx="177.0" cy="147.8" rx="3.0" ry="2.7" fill="#ff12cc"/>
<ellipse cx="139.0" cy="153.1" rx="3.0" ry="2.7" fill="#ff12cc"/>
<ellipse cx="164.8" cy="163.0" rx="3.0" ry="2.7" fill="#ff12cc"/>
<ellipse cx="180.8" cy="166.0" rx="3.0" ry="2.7" fill="#ff12cc"/>
<ellipse cx="149.7" cy="169.8" rx="3.0" ry="2.7" fill="#ff12cc"/>
<ellipse cx="142.5" cy="172.9" rx="3.0" ry="2.7" fill="#ff12cc"/>
<ellipse cx="169.9" cy="172.9" rx="3.0" ry="2.7" fill="#ff12cc"/>
<ellipse cx="155.3" cy="179.0" rx="3.0" ry="2.7" fill="#ff12cc"/>
<ellipse cx="88.1" cy="3.5" rx="3.0" ry="2.7" fill="#ff12cc"/>
<ellipse cx="186.1" cy="9.6" rx="3.0" ry="2.7" fill="#ff12cc"/>
<ellipse cx="45.6" cy="15.6" rx="3.0" ry="2.7" fill="#c418d8"/>
<ellipse cx="69.1" cy="67.0" rx="3.0" ry="2.7" fill="#c418d8"/>
<ellipse cx="41.0" cy="88.6" rx="3.0" ry="2.7" fill="#c418d8"/>
<ellipse cx="53.9" cy="87.0" rx="3.0" ry="2.7" fill="#c418d8"/>
<ellipse cx="71.4" cy="126.5" rx="3.0" ry="2.7" fill="#c418d8"/>
<ellipse cx="158.8" cy="30.1" rx="3.0" ry="2.7" fill="#c418d8"/>
<ellipse cx="129.1" cy="50.3" rx="3.0" ry="2.7" fill="#c418d8"/>
<ellipse cx="115.5" cy="54.4" rx="3.0" ry="2.7" fill="#c418d8"/>
<ellipse cx="86.6" cy="57.4" rx="3.0" ry="2.7" fill="#c418d8"/>
<ellipse cx="167.1" cy="81.3" rx="3.0" ry="2.7" fill="#c418d8"/>
<ellipse cx="149.7" cy="111.0" rx="3.0" ry="2.7" fill="#c418d8"/>
<ellipse cx="135.2" cy="134.9" rx="3.0" ry="2.7" fill="#c418d8"/>
</g></svg>
</g>
</svg>
</body></html>
